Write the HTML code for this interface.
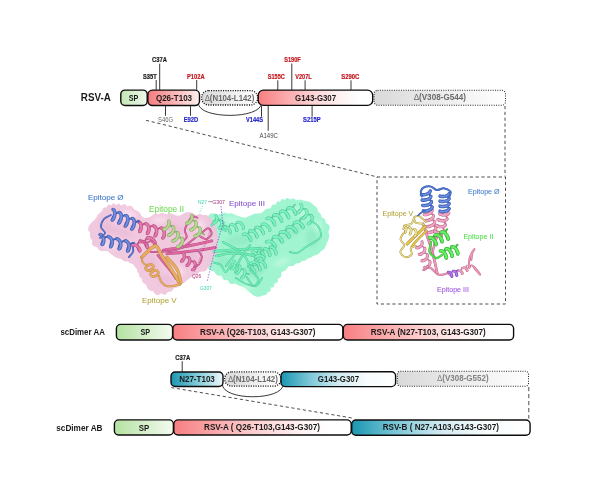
<!DOCTYPE html>
<html><head><meta charset="utf-8">
<style>
html,body{margin:0;padding:0;background:#fff;}
svg{display:block;will-change:transform;opacity:0.999;}
text{font-family:"Liberation Sans",sans-serif;stroke-width:0;}
.b{font-weight:bold;}
#struct text{stroke-width:0.05;paint-order:stroke;}
.s{font-size:6.5px;stroke-width:0.18px;font-weight:bold;text-anchor:middle;}
.m{font-size:8.7px;font-weight:bold;text-anchor:middle;}
.r{fill:#c4161c;stroke:#c4161c;}
.bl{fill:#2424c8;stroke:#2424c8;}
.k{fill:#1a1a1a;}
.s.k{stroke:#1a1a1a;}
.g{fill:#6a6a6a;}
.bx{stroke:#0c0c0c;stroke-width:1.4;}
.dt2{stroke:#2a2a2a;stroke-width:1.05;stroke-dasharray:1 1.35;}
.dt{stroke:#111;stroke-width:1.3;stroke-dasharray:1.1 1.3;}
.ds{stroke:#3a3a3a;stroke-width:0.9;stroke-dasharray:3.2 2.6;fill:none;}
.tk{stroke:#222;stroke-width:0.9;}
</style></head><body>
<svg width="600" height="502" viewBox="0 0 600 502">
<defs>
<linearGradient id="gG" x1="0" x2="1" y1="0" y2="0"><stop offset="0" stop-color="#b4e2a2"/><stop offset="1" stop-color="#f4fbf0"/></linearGradient>
<linearGradient id="gG1" x1="0" x2="1" y1="0" y2="0"><stop offset="0" stop-color="#c2e7b3"/><stop offset="1" stop-color="#eef8ea"/></linearGradient>
<linearGradient id="gR" x1="0" x2="1" y1="0" y2="0"><stop offset="0" stop-color="#f77f82"/><stop offset="0.25" stop-color="#faabad"/><stop offset="0.5" stop-color="#fdd6d7"/><stop offset="0.72" stop-color="#fff2f2"/><stop offset="0.88" stop-color="#ffffff"/></linearGradient>
<linearGradient id="gT" x1="0" x2="1" y1="0" y2="0"><stop offset="0" stop-color="#1a96b1"/><stop offset="0.25" stop-color="#7cc7d7"/><stop offset="0.5" stop-color="#d2ebf1"/><stop offset="0.75" stop-color="#f7fcfd"/><stop offset="1" stop-color="#ffffff"/></linearGradient>
<linearGradient id="gY" x1="0" x2="1" y1="0" y2="0"><stop offset="0" stop-color="#d9d9d9"/><stop offset="1" stop-color="#ffffff"/></linearGradient>
<filter id="bl1" x="-10%" y="-10%" width="120%" height="120%"><feGaussianBlur stdDeviation="0.7"/></filter>
<linearGradient id="gT2" x1="0" x2="1" y1="0" y2="0"><stop offset="0" stop-color="#1a96b1"/><stop offset="0.5" stop-color="#7fcbd9"/><stop offset="1" stop-color="#eef8fa"/></linearGradient>
<linearGradient id="gR2" x1="0" x2="1" y1="0" y2="0"><stop offset="0" stop-color="#f67c7f"/><stop offset="0.5" stop-color="#fab3b4"/><stop offset="1" stop-color="#fff0f0"/></linearGradient>
<filter id="bl2" x="-30%" y="-30%" width="160%" height="160%"><feGaussianBlur stdDeviation="2.2"/></filter>
</defs>
<rect width="600" height="502" fill="#fff"/>

<!-- ROW 1 -->
<g id="row1">
<text x="80.8" y="101.4" class="b k" font-size="10.4" textLength="30" lengthAdjust="spacingAndGlyphs">RSV-A</text>
<path class="ds" d="M146 120.3 L377.5 177"/>
<path d="M198.3 103 C198.3 119.5,261.5 119.5,261.5 103" fill="none" stroke="#222" stroke-width="0.9"/>
<rect x="120.8" y="90.1" width="26.4" height="15.4" rx="4.2" fill="url(#gG1)" class="bx"/>
<text x="133.5" y="100.7" class="m k" font-size="7.6" textLength="9.6" lengthAdjust="spacingAndGlyphs">SP</text>
<rect x="201.6" y="90.6" width="56" height="14.4" rx="7" fill="url(#gY)" class="dt"/>
<text x="229.7" y="100.6" class="m g" font-size="8.6" textLength="49.3" lengthAdjust="spacingAndGlyphs"><tspan style="font-weight:normal">∆</tspan>(N104-L142)</text>
<rect x="147.9" y="90.1" width="51.6" height="15.4" rx="4.5" fill="url(#gR2)" class="bx"/>
<text x="174" y="100.6" class="m k" textLength="36.2" lengthAdjust="spacingAndGlyphs">Q26-T103</text>
<rect x="374" y="90.3" width="131.5" height="14.9" rx="3.5" fill="url(#gY)" class="dt2"/>
<text x="440" y="100" class="m g" font-size="8.2" textLength="52" lengthAdjust="spacingAndGlyphs"><tspan style="font-weight:normal">∆</tspan>(V308-G544)</text>
<rect x="258.2" y="90.1" width="114.5" height="15.3" rx="5.2" fill="url(#gR)" class="bx"/>
<text x="315.6" y="100.7" class="m k" textLength="41" lengthAdjust="spacingAndGlyphs">G143-G307</text>
<!-- ticks -->
<path class="tk" d="M156.2 80V90 M159.7 63.7V90 M196.7 80V90 M277.8 80.3V90 M291.8 63.5V90 M305.1 80.3V90 M351 80.3V90 M165.5 106V115.8 M190.5 106V115.8 M261.5 106V116.7 M268.2 106V130.7 M312.1 106V116.7"/>
<text x="149.85" y="78.7" class="s k" textLength="13.7" lengthAdjust="spacingAndGlyphs">S35T</text>
<text x="159.50" y="62.3" class="s k" textLength="15.0" lengthAdjust="spacingAndGlyphs">C37A</text>
<text x="195.85" y="78.7" class="s r" textLength="17.7" lengthAdjust="spacingAndGlyphs">P102A</text>
<text x="276.30" y="78.7" class="s r" textLength="17.0" lengthAdjust="spacingAndGlyphs">S155C</text>
<text x="292.45" y="62.0" class="s r" textLength="16.5" lengthAdjust="spacingAndGlyphs">S190F</text>
<text x="303.50" y="78.7" class="s r" textLength="16.4" lengthAdjust="spacingAndGlyphs">V207L</text>
<text x="350.30" y="78.7" class="s r" textLength="18.0" lengthAdjust="spacingAndGlyphs">S290C</text>
<text x="165.50" y="121.6" class="s g" style="font-weight:normal" textLength="15.0" lengthAdjust="spacingAndGlyphs">S46G</text>
<text x="191.00" y="121.6" class="s bl" textLength="14.6" lengthAdjust="spacingAndGlyphs">E92D</text>
<text x="254.45" y="121.6" class="s bl" textLength="16.9" lengthAdjust="spacingAndGlyphs">V144S</text>
<text x="268.65" y="137.9" class="s" fill="#444" style="font-weight:normal" textLength="18.3" lengthAdjust="spacingAndGlyphs">A149C</text>
<text x="311.85" y="121.6" class="s bl" textLength="17.5" lengthAdjust="spacingAndGlyphs">S215P</text>
<path class="ds" d="M505 106V176.5"/>
<rect x="377" y="177" width="128.5" height="127" class="ds"/>
</g>

<!-- STRUCTURES -->
<g id="struct">
<g filter="url(#bl1)">
<path d="M208.2 216.5 L208.6 215.6 L209.2 214.8 L209.9 214.1 L210.7 213.7 L211.6 213.4 L212.5 213.3 L213.4 213.4 L214.3 213.5 L215.3 213.7 L216.3 214.1 L217.4 214.4 L218.6 214.8 L219.5 214.2 L220.6 213.7 L221.7 213.2 L222.9 212.8 L224.2 212.7 L225.4 212.8 L226.7 213.2 L227.9 213.8 L229.2 213.6 L230.8 213.3 L232.4 213.4 L233.9 213.9 L235.2 214.9 L236.6 215.6 L238.2 215.8 L239.5 216.2 L240.8 216.7 L242.0 217.2 L243.3 217.6 L244.6 217.8 L245.9 217.5 L247.1 217.1 L248.3 216.5 L249.4 216.0 L250.5 215.4 L251.6 214.9 L252.7 214.4 L253.7 214.0 L254.7 213.7 L255.7 213.5 L256.7 213.4 L257.7 213.4 L258.6 213.4 L259.6 213.5 L260.5 213.3 L261.3 212.9 L262.0 212.5 L262.7 212.0 L263.3 211.4 L263.9 210.9 L264.5 210.3 L265.2 209.8 L265.9 209.3 L266.7 208.9 L267.7 208.6 L268.8 208.4 L269.9 208.5 L270.7 208.2 L271.0 207.3 L271.3 206.4 L271.7 205.7 L272.1 205.1 L272.7 204.7 L273.5 204.5 L274.4 204.6 L275.3 204.8 L276.0 204.6 L276.2 203.4 L276.6 202.3 L277.1 201.6 L277.9 201.3 L278.8 201.4 L279.9 201.9 L280.5 201.1 L281.0 199.9 L281.8 199.0 L282.8 198.9 L283.9 199.4 L285.0 200.0 L285.9 198.7 L286.9 198.0 L288.1 198.1 L289.3 198.9 L290.5 199.4 L291.7 198.7 L292.8 198.5 L293.9 198.7 L295.0 199.3 L296.0 200.0 L297.0 200.2 L298.1 199.8 L299.1 199.7 L300.1 199.6 L301.0 199.8 L302.0 200.0 L302.9 200.3 L303.9 200.7 L304.8 201.1 L305.9 201.1 L307.1 201.2 L308.2 201.4 L309.4 201.7 L310.4 202.2 L311.4 202.9 L312.3 203.7 L313.1 204.6 L314.0 205.4 L315.0 206.0 L316.0 206.8 L316.7 207.7 L317.3 208.8 L317.7 210.1 L317.9 211.5 L318.9 212.3 L319.9 213.1 L320.6 214.0 L321.1 215.2 L321.2 216.5 L321.8 217.5 L323.2 218.1 L324.3 218.7 L325.1 219.6 L325.5 220.8 L325.5 222.1 L326.0 223.1 L327.3 223.7 L328.4 224.5 L329.1 225.4 L329.5 226.4 L329.6 227.5 L329.5 228.6 L329.2 229.8 L328.8 230.9 L328.4 231.9 L328.6 232.8 L328.9 233.7 L329.1 234.6 L329.2 235.5 L329.2 236.4 L329.0 237.3 L328.8 238.2 L328.5 239.1 L328.2 240.0 L327.9 240.9 L327.5 241.8 L327.1 242.6 L326.8 243.4 L326.5 244.2 L326.2 245.0 L325.9 245.7 L325.6 246.3 L325.3 247.0 L325.0 247.6 L324.6 248.2 L324.1 248.9 L323.4 249.5 L322.7 250.1 L321.7 250.7 L320.7 251.5 L319.7 252.8 L318.5 253.9 L317.0 254.8 L315.2 255.4 L313.2 255.7 L311.9 256.9 L310.5 257.8 L308.9 258.3 L307.6 258.6 L306.7 259.6 L305.8 260.3 L304.8 260.7 L303.8 260.8 L302.9 260.8 L301.9 261.1 L301.1 261.7 L300.3 262.4 L299.4 262.9 L298.4 263.2 L297.1 263.3 L295.9 263.6 L294.9 264.7 L293.9 265.5 L292.6 266.1 L291.1 266.2 L289.4 266.1 L288.1 266.7 L287.3 268.0 L286.4 269.2 L285.5 270.2 L284.2 270.9 L282.5 271.5 L281.3 272.6 L281.4 274.6 L281.1 276.4 L280.3 277.5 L278.8 278.2 L277.6 279.0 L277.9 280.7 L277.7 281.9 L277.1 282.6 L276.1 283.1 L274.9 283.3 L274.1 283.7 L274.3 284.7 L274.3 285.6 L274.1 286.3 L273.5 286.9 L272.7 287.2 L271.6 287.5 L270.5 287.8 L270.8 288.7 L270.8 289.6 L270.7 290.3 L270.4 290.9 L269.9 291.4 L269.2 291.7 L268.4 291.9 L267.7 292.0 L267.4 292.8 L267.0 293.6 L266.5 294.3 L265.8 294.8 L265.0 295.1 L264.1 295.3 L263.2 295.4 L262.4 295.4 L261.6 296.0 L260.7 296.4 L259.8 296.7 L258.8 296.8 L257.8 296.8 L256.8 296.7 L255.8 296.4 L254.9 296.0 L253.9 295.5 L253.0 294.9 L252.1 294.3 L251.3 293.6 L250.5 292.9 L249.7 292.2 L248.8 291.4 L248.0 290.6 L247.1 289.8 L246.2 289.0 L245.2 288.3 L244.2 287.6 L243.1 287.0 L242.0 286.6 L240.8 286.2 L239.6 285.8 L238.4 285.3 L237.3 284.7 L236.2 283.9 L234.9 283.6 L233.4 283.9 L232.0 284.0 L230.8 283.8 L229.7 283.2 L228.9 282.2 L228.3 281.0 L227.6 279.9 L226.4 280.1 L225.3 280.2 L224.2 279.9 L223.4 279.4 L222.7 278.5 L222.2 277.3 L221.9 275.8 L220.6 275.7 L219.2 275.8 L217.8 275.6 L216.8 275.0 L215.9 274.0 L215.2 272.9 L214.6 271.7 L213.5 271.3 L212.1 271.1 L211.0 270.7 L210.0 270.2 L209.2 269.6 L208.6 268.9 L208.0 268.1 L207.6 267.2 L207.3 266.2 L207.1 265.3 L207.0 264.3 L207.1 263.4 L206.8 262.7 L206.6 261.8 L206.5 260.9 L206.6 260.0 L206.8 259.0 L207.2 258.1 L207.7 257.2 L208.3 256.3 L209.0 255.5 L209.3 254.5 L209.3 253.5 L209.4 252.5 L209.7 251.6 L210.2 250.7 L210.8 249.9 L211.5 249.2 L211.6 248.2 L211.7 247.2 L211.9 246.3 L212.1 245.6 L212.4 244.9 L212.7 244.2 L212.3 243.5 L211.7 242.9 L211.3 242.3 L211.0 241.5 L211.0 240.6 L211.1 239.5 L210.3 238.9 L209.7 238.1 L209.4 237.2 L209.5 236.2 L209.9 235.1 L209.8 234.1 L208.9 233.4 L208.4 232.6 L208.2 231.6 L208.3 230.5 L208.8 229.5 L209.0 228.5 L208.1 227.7 L207.4 226.7 L207.0 225.5 L206.9 224.4 L207.2 223.2 L207.8 222.1 L208.5 221.0 L208.5 219.9 L208.1 218.7 L208.0 217.6Z" fill="#a0f5d0"/>
<path d="M88.5 231.0 L88.2 229.9 L88.2 228.9 L88.3 227.9 L88.5 226.9 L88.9 226.1 L89.4 225.2 L90.0 224.4 L90.6 223.6 L91.4 222.9 L92.2 222.1 L93.1 221.3 L94.0 220.5 L94.9 219.6 L95.6 218.4 L96.4 217.3 L97.1 216.0 L97.9 214.8 L98.8 213.7 L99.9 212.8 L101.1 212.1 L101.9 211.0 L102.4 209.5 L103.2 208.2 L104.5 207.5 L106.2 207.5 L107.1 206.2 L107.9 204.9 L109.3 204.6 L111.0 205.4 L112.0 204.6 L113.0 203.6 L114.3 203.6 L115.5 204.8 L116.7 204.9 L117.9 203.7 L119.1 203.7 L120.2 204.7 L121.3 205.7 L122.8 204.5 L124.2 204.1 L125.5 204.6 L126.6 206.0 L128.0 206.2 L129.8 205.8 L131.4 206.1 L132.6 207.1 L133.6 208.4 L134.5 209.8 L135.9 210.3 L137.1 210.8 L138.3 211.4 L139.2 212.3 L140.0 213.3 L140.7 214.4 L141.3 215.5 L142.0 216.5 L142.8 217.4 L143.9 217.8 L145.0 218.0 L146.0 218.1 L146.9 218.0 L147.7 217.8 L148.5 217.5 L149.3 217.2 L150.1 216.8 L151.0 216.5 L151.8 215.8 L152.6 215.0 L153.6 214.4 L154.7 214.0 L156.0 213.8 L157.3 214.0 L158.7 214.0 L160.0 213.5 L161.4 213.1 L162.9 213.1 L164.3 213.4 L165.7 214.0 L166.9 214.1 L168.0 213.7 L169.0 213.4 L170.1 213.4 L171.1 213.5 L172.1 213.8 L173.0 214.1 L173.8 214.5 L174.6 214.9 L175.4 215.2 L176.2 215.5 L177.0 215.6 L177.8 215.7 L178.7 215.6 L179.6 215.4 L180.6 215.3 L181.5 214.9 L182.3 214.3 L183.1 213.7 L184.0 213.2 L184.9 212.8 L185.9 212.5 L187.0 212.3 L188.1 212.2 L189.2 212.2 L190.3 212.3 L191.4 212.6 L192.5 213.0 L193.6 213.6 L194.7 214.3 L195.7 215.1 L196.8 215.0 L198.1 214.5 L199.3 214.1 L200.5 214.0 L201.6 214.4 L202.7 215.0 L203.8 215.3 L205.2 214.9 L206.4 214.9 L207.5 215.5 L208.3 216.5 L209.2 217.3 L210.4 217.7 L211.4 218.4 L212.1 219.5 L212.6 220.8 L213.3 221.8 L214.2 222.7 L214.8 223.8 L215.1 225.0 L215.2 226.3 L215.6 227.4 L216.3 228.6 L216.8 229.8 L217.1 231.2 L217.2 232.6 L217.0 234.1 L217.7 235.6 L218.3 237.1 L218.7 238.6 L218.7 240.0 L218.2 241.5 L217.3 243.0 L217.7 244.5 L218.1 246.2 L217.8 247.7 L216.8 249.1 L215.0 250.3 L215.7 252.1 L215.9 253.7 L215.0 255.0 L213.1 255.8 L213.6 257.8 L213.7 259.6 L212.5 260.8 L210.9 261.7 L211.4 264.0 L210.9 265.6 L209.5 266.5 L207.7 266.9 L207.5 268.4 L207.0 269.7 L206.1 270.6 L205.0 271.2 L203.8 271.5 L202.6 271.6 L201.4 271.7 L200.3 271.8 L199.4 272.1 L198.5 272.8 L197.7 273.4 L196.8 273.9 L196.0 274.4 L195.2 274.9 L194.4 275.3 L193.5 275.7 L192.7 276.2 L191.8 276.7 L191.0 277.2 L190.2 277.8 L189.3 278.5 L188.5 279.2 L187.6 280.0 L186.7 280.8 L185.7 281.6 L184.6 282.4 L183.4 283.0 L182.2 283.7 L181.2 284.6 L180.2 285.5 L179.2 286.2 L178.1 286.9 L176.9 287.5 L175.5 287.8 L174.1 287.9 L173.3 289.1 L172.5 290.3 L171.6 291.2 L170.4 291.7 L169.0 291.7 L167.8 291.9 L166.9 293.3 L165.7 294.4 L164.3 294.7 L162.8 294.2 L161.3 293.2 L159.9 294.2 L158.5 294.9 L157.1 295.0 L155.9 294.5 L154.8 293.7 L154.0 292.7 L153.4 291.6 L152.7 290.9 L151.7 290.9 L150.7 290.7 L149.8 290.4 L148.9 289.9 L148.2 289.2 L147.6 288.4 L147.1 287.5 L146.7 286.4 L146.5 285.2 L145.8 284.4 L144.5 283.8 L143.4 283.0 L142.6 282.0 L142.1 280.9 L142.0 279.5 L141.4 278.3 L140.1 277.5 L139.3 276.4 L139.0 274.9 L138.6 273.3 L137.6 272.2 L137.0 270.7 L136.8 268.9 L135.6 267.8 L134.6 266.5 L133.8 265.0 L132.3 264.1 L130.7 263.4 L129.3 262.4 L127.7 261.6 L125.6 261.5 L123.8 261.0 L122.2 260.0 L120.8 258.7 L118.9 258.4 L117.1 258.0 L115.6 257.3 L114.2 256.5 L113.0 255.6 L111.7 254.7 L110.6 253.7 L109.5 252.7 L108.4 251.7 L107.2 250.9 L105.7 251.0 L104.2 251.1 L102.7 251.1 L101.3 250.9 L100.0 250.5 L98.9 249.8 L98.0 248.8 L97.3 247.6 L96.4 246.7 L95.0 246.6 L93.7 246.2 L92.7 245.3 L92.1 244.1 L92.0 242.7 L92.2 241.1 L91.7 239.8 L90.8 238.7 L90.2 237.4 L89.9 236.0 L89.9 234.6 L90.0 233.2 L90.0 232.0Z" fill="#f0c4dc" fill-opacity="0.92"/>
</g>
<g filter="url(#bl2)">
<ellipse cx="120.0" cy="232.0" rx="14.0" ry="5.0" fill="#e6afcf" opacity="0.38" transform="rotate(15 120.0 232.0)"/>
<ellipse cx="150.0" cy="262.0" rx="8.0" ry="12.0" fill="#e6afcf" opacity="0.38" transform="rotate(-30 150.0 262.0)"/>
<ellipse cx="175.0" cy="228.0" rx="12.0" ry="5.0" fill="#e6afcf" opacity="0.38" transform="rotate(20 175.0 228.0)"/>
<ellipse cx="190.0" cy="258.0" rx="9.0" ry="6.0" fill="#e6afcf" opacity="0.38" transform="rotate(-20 190.0 258.0)"/>
<ellipse cx="105.0" cy="226.0" rx="6.0" ry="10.0" fill="#e6afcf" opacity="0.38" transform="rotate(0 105.0 226.0)"/>
<ellipse cx="165.0" cy="280.0" rx="9.0" ry="5.0" fill="#e6afcf" opacity="0.38" transform="rotate(10 165.0 280.0)"/>
<ellipse cx="128.0" cy="214.0" rx="8.0" ry="4.0" fill="#fbe6f2" opacity="0.70" transform="rotate(10 128.0 214.0)"/>
<ellipse cx="160.0" cy="220.0" rx="8.0" ry="3.0" fill="#fbe6f2" opacity="0.70" transform="rotate(0 160.0 220.0)"/>
<ellipse cx="110.0" cy="246.0" rx="8.0" ry="3.0" fill="#fbe6f2" opacity="0.70" transform="rotate(10 110.0 246.0)"/>
<ellipse cx="178.0" cy="272.0" rx="6.0" ry="5.0" fill="#fbe6f2" opacity="0.70" transform="rotate(0 178.0 272.0)"/>
<ellipse cx="200.0" cy="226.0" rx="5.0" ry="6.0" fill="#fbe6f2" opacity="0.70" transform="rotate(0 200.0 226.0)"/>
<ellipse cx="240.0" cy="240.0" rx="14.0" ry="6.0" fill="#84e2bc" opacity="0.45" transform="rotate(-10 240.0 240.0)"/>
<ellipse cx="290.0" cy="232.0" rx="16.0" ry="5.0" fill="#84e2bc" opacity="0.45" transform="rotate(-30 290.0 232.0)"/>
<ellipse cx="255.0" cy="270.0" rx="10.0" ry="7.0" fill="#84e2bc" opacity="0.45" transform="rotate(-20 255.0 270.0)"/>
<ellipse cx="312.0" cy="238.0" rx="6.0" ry="10.0" fill="#84e2bc" opacity="0.45" transform="rotate(0 312.0 238.0)"/>
<ellipse cx="225.0" cy="262.0" rx="8.0" ry="5.0" fill="#84e2bc" opacity="0.45" transform="rotate(20 225.0 262.0)"/>
<ellipse cx="270.0" cy="250.0" rx="10.0" ry="4.0" fill="#84e2bc" opacity="0.45" transform="rotate(-25 270.0 250.0)"/>
<ellipse cx="232.0" cy="220.0" rx="9.0" ry="3.0" fill="#c9fbe6" opacity="0.70" transform="rotate(0 232.0 220.0)"/>
<ellipse cx="300.0" cy="212.0" rx="9.0" ry="4.0" fill="#c9fbe6" opacity="0.70" transform="rotate(10 300.0 212.0)"/>
<ellipse cx="282.0" cy="262.0" rx="8.0" ry="3.0" fill="#c9fbe6" opacity="0.70" transform="rotate(-25 282.0 262.0)"/>
<ellipse cx="248.0" cy="286.0" rx="6.0" ry="4.0" fill="#c9fbe6" opacity="0.70" transform="rotate(0 248.0 286.0)"/>
<ellipse cx="318.0" cy="226.0" rx="4.0" ry="6.0" fill="#c9fbe6" opacity="0.70" transform="rotate(0 318.0 226.0)"/>
</g>
<g opacity="0.84">
<path d="M274.5 224.7 L273.9 224.5 L273.1 223.5 L272.4 221.9 L272.0 219.9 L272.1 217.9 L272.8 216.2 L274.0 215.1 M281.5 221.2 L280.9 221.0 L280.1 220.0 L279.4 218.4 L279.0 216.4 L279.1 214.4 L279.8 212.7 L281.0 211.6 M288.5 217.7 L287.9 217.5 L287.1 216.5 L286.4 214.9 L286.0 212.9 L286.1 210.9 L286.8 209.2 L288.0 208.1 M295.5 214.2 L294.9 214.0 L294.1 213.0 L293.4 211.4 L293.0 209.4 L293.1 207.4 L293.8 205.7 L295.0 204.6" fill="none" stroke="#52ca9a" stroke-width="1.8" stroke-linecap="round" stroke-linejoin="round"/>
<path d="M267.0 218.6 L268.6 218.2 L270.4 218.7 L272.1 219.9 L273.5 221.4 L274.4 222.9 L274.7 224.1 L274.5 224.7 M274.0 215.1 L275.6 214.7 L277.4 215.2 L279.1 216.4 L280.5 217.9 L281.4 219.4 L281.7 220.6 L281.5 221.2 M281.0 211.6 L282.6 211.2 L284.4 211.7 L286.1 212.9 L287.5 214.4 L288.4 215.9 L288.7 217.1 L288.5 217.7 M288.0 208.1 L289.6 207.7 L291.4 208.2 L293.1 209.4 L294.5 210.9 L295.4 212.4 L295.7 213.6 L295.5 214.2" fill="none" stroke="#46ac88" stroke-width="3.3" stroke-linecap="round" stroke-linejoin="round"/>
<path d="M267.0 218.6 L268.6 218.2 L270.4 218.7 L272.1 219.9 L273.5 221.4 L274.4 222.9 L274.7 224.1 L274.5 224.7 M274.0 215.1 L275.6 214.7 L277.4 215.2 L279.1 216.4 L280.5 217.9 L281.4 219.4 L281.7 220.6 L281.5 221.2 M281.0 211.6 L282.6 211.2 L284.4 211.7 L286.1 212.9 L287.5 214.4 L288.4 215.9 L288.7 217.1 L288.5 217.7 M288.0 208.1 L289.6 207.7 L291.4 208.2 L293.1 209.4 L294.5 210.9 L295.4 212.4 L295.7 213.6 L295.5 214.2" fill="none" stroke="#62f0b2" stroke-width="2.6" stroke-linecap="round" stroke-linejoin="round"/>
<path d="M267.0 218.6 L268.6 218.2 L270.4 218.7 L272.1 219.9 L273.5 221.4 L274.4 222.9 L274.7 224.1 L274.5 224.7 M274.0 215.1 L275.6 214.7 L277.4 215.2 L279.1 216.4 L280.5 217.9 L281.4 219.4 L281.7 220.6 L281.5 221.2 M281.0 211.6 L282.6 211.2 L284.4 211.7 L286.1 212.9 L287.5 214.4 L288.4 215.9 L288.7 217.1 L288.5 217.7 M288.0 208.1 L289.6 207.7 L291.4 208.2 L293.1 209.4 L294.5 210.9 L295.4 212.4 L295.7 213.6 L295.5 214.2" fill="none" stroke="#b0f7d8" stroke-width="0.9" stroke-linecap="round" stroke-linejoin="round" opacity="0.55"/>
<path d="M275.0 246.7 L274.3 246.7 L273.4 245.8 L272.5 244.3 L271.9 242.3 L271.8 240.2 L272.3 238.4 L273.5 237.1 M282.0 241.9 L281.3 241.9 L280.4 241.0 L279.5 239.5 L278.9 237.5 L278.8 235.4 L279.3 233.6 L280.5 232.3 M289.0 237.1 L288.3 237.1 L287.4 236.2 L286.5 234.7 L285.9 232.7 L285.8 230.6 L286.3 228.8 L287.5 227.5 M296.0 232.3 L295.3 232.3 L294.4 231.4 L293.5 229.9 L292.9 227.9 L292.8 225.8 L293.3 224.0 L294.5 222.7 M303.0 227.5 L302.3 227.5 L301.4 226.6 L300.5 225.1 L299.9 223.1 L299.8 221.0 L300.3 219.2 L301.5 217.9" fill="none" stroke="#52ca9a" stroke-width="1.8" stroke-linecap="round" stroke-linejoin="round"/>
<path d="M266.5 241.9 L268.2 241.3 L270.1 241.4 L272.0 242.3 L273.6 243.5 L274.7 244.9 L275.2 246.1 L275.0 246.7 M273.5 237.1 L275.2 236.5 L277.1 236.6 L279.0 237.5 L280.6 238.7 L281.7 240.1 L282.2 241.3 L282.0 241.9 M280.5 232.3 L282.2 231.7 L284.1 231.8 L286.0 232.7 L287.6 233.9 L288.7 235.3 L289.2 236.5 L289.0 237.1 M287.5 227.5 L289.2 226.9 L291.1 227.0 L293.0 227.9 L294.6 229.1 L295.7 230.5 L296.2 231.7 L296.0 232.3 M294.5 222.7 L296.2 222.1 L298.1 222.2 L300.0 223.1 L301.6 224.3 L302.7 225.7 L303.2 226.9 L303.0 227.5" fill="none" stroke="#46ac88" stroke-width="3.3" stroke-linecap="round" stroke-linejoin="round"/>
<path d="M266.5 241.9 L268.2 241.3 L270.1 241.4 L272.0 242.3 L273.6 243.5 L274.7 244.9 L275.2 246.1 L275.0 246.7 M273.5 237.1 L275.2 236.5 L277.1 236.6 L279.0 237.5 L280.6 238.7 L281.7 240.1 L282.2 241.3 L282.0 241.9 M280.5 232.3 L282.2 231.7 L284.1 231.8 L286.0 232.7 L287.6 233.9 L288.7 235.3 L289.2 236.5 L289.0 237.1 M287.5 227.5 L289.2 226.9 L291.1 227.0 L293.0 227.9 L294.6 229.1 L295.7 230.5 L296.2 231.7 L296.0 232.3 M294.5 222.7 L296.2 222.1 L298.1 222.2 L300.0 223.1 L301.6 224.3 L302.7 225.7 L303.2 226.9 L303.0 227.5" fill="none" stroke="#62f0b2" stroke-width="2.6" stroke-linecap="round" stroke-linejoin="round"/>
<path d="M266.5 241.9 L268.2 241.3 L270.1 241.4 L272.0 242.3 L273.6 243.5 L274.7 244.9 L275.2 246.1 L275.0 246.7 M273.5 237.1 L275.2 236.5 L277.1 236.6 L279.0 237.5 L280.6 238.7 L281.7 240.1 L282.2 241.3 L282.0 241.9 M280.5 232.3 L282.2 231.7 L284.1 231.8 L286.0 232.7 L287.6 233.9 L288.7 235.3 L289.2 236.5 L289.0 237.1 M287.5 227.5 L289.2 226.9 L291.1 227.0 L293.0 227.9 L294.6 229.1 L295.7 230.5 L296.2 231.7 L296.0 232.3 M294.5 222.7 L296.2 222.1 L298.1 222.2 L300.0 223.1 L301.6 224.3 L302.7 225.7 L303.2 226.9 L303.0 227.5" fill="none" stroke="#b0f7d8" stroke-width="0.9" stroke-linecap="round" stroke-linejoin="round" opacity="0.55"/>
<path d="M297.7 212.5 L297.7 211.9 L298.3 211.0 L299.5 210.0 L301.2 209.2 L303.1 208.8 L304.8 209.0 L306.1 209.9 M302.9 218.1 L302.9 217.5 L303.5 216.6 L304.7 215.6 L306.4 214.8 L308.3 214.4 L310.0 214.6 L311.3 215.5" fill="none" stroke="#52ca9a" stroke-width="1.7" stroke-linecap="round" stroke-linejoin="round"/>
<path d="M300.9 204.3 L301.7 205.7 L301.8 207.4 L301.3 209.2 L300.4 210.8 L299.2 212.0 L298.3 212.6 L297.7 212.5 M306.1 209.9 L306.9 211.3 L307.0 213.0 L306.5 214.8 L305.6 216.4 L304.4 217.6 L303.5 218.2 L302.9 218.1 M311.3 215.5 L312.1 216.9 L312.2 218.6 L311.7 220.4 L310.8 222.0 L309.6 223.2 L308.7 223.8 L308.1 223.7" fill="none" stroke="#46ac88" stroke-width="3.1" stroke-linecap="round" stroke-linejoin="round"/>
<path d="M300.9 204.3 L301.7 205.7 L301.8 207.4 L301.3 209.2 L300.4 210.8 L299.2 212.0 L298.3 212.6 L297.7 212.5 M306.1 209.9 L306.9 211.3 L307.0 213.0 L306.5 214.8 L305.6 216.4 L304.4 217.6 L303.5 218.2 L302.9 218.1 M311.3 215.5 L312.1 216.9 L312.2 218.6 L311.7 220.4 L310.8 222.0 L309.6 223.2 L308.7 223.8 L308.1 223.7" fill="none" stroke="#62f0b2" stroke-width="2.4" stroke-linecap="round" stroke-linejoin="round"/>
<path d="M300.9 204.3 L301.7 205.7 L301.8 207.4 L301.3 209.2 L300.4 210.8 L299.2 212.0 L298.3 212.6 L297.7 212.5 M306.1 209.9 L306.9 211.3 L307.0 213.0 L306.5 214.8 L305.6 216.4 L304.4 217.6 L303.5 218.2 L302.9 218.1 M311.3 215.5 L312.1 216.9 L312.2 218.6 L311.7 220.4 L310.8 222.0 L309.6 223.2 L308.7 223.8 L308.1 223.7" fill="none" stroke="#b0f7d8" stroke-width="0.8" stroke-linecap="round" stroke-linejoin="round" opacity="0.55"/>
<path d="M250.7 240.4 L250.1 240.2 L249.4 239.2 L248.6 237.6 L248.2 235.7 L248.2 233.7 L248.7 232.0 L249.8 230.9 M257.0 237.1 L256.5 236.9 L255.7 235.9 L255.0 234.3 L254.5 232.3 L254.5 230.3 L255.0 228.7 L256.1 227.6 M263.4 233.7 L262.8 233.5 L262.0 232.6 L261.3 231.0 L260.8 229.0 L260.8 227.0 L261.4 225.3 L262.4 224.3" fill="none" stroke="#52ca9a" stroke-width="1.7" stroke-linecap="round" stroke-linejoin="round"/>
<path d="M243.4 234.3 L244.9 234.0 L246.6 234.5 L248.3 235.6 L249.6 237.1 L250.5 238.6 L250.9 239.8 L250.7 240.4 M249.8 230.9 L251.3 230.7 L252.9 231.1 L254.6 232.3 L255.9 233.8 L256.9 235.3 L257.2 236.5 L257.0 237.1 M256.1 227.6 L257.6 227.3 L259.3 227.8 L260.9 228.9 L262.3 230.4 L263.2 232.0 L263.5 233.1 L263.4 233.7 M262.4 224.3 L263.9 224.0 L265.6 224.5 L267.2 225.6 L268.6 227.1 L269.5 228.6 L269.9 229.8 L269.7 230.4" fill="none" stroke="#46ac88" stroke-width="3.1" stroke-linecap="round" stroke-linejoin="round"/>
<path d="M243.4 234.3 L244.9 234.0 L246.6 234.5 L248.3 235.6 L249.6 237.1 L250.5 238.6 L250.9 239.8 L250.7 240.4 M249.8 230.9 L251.3 230.7 L252.9 231.1 L254.6 232.3 L255.9 233.8 L256.9 235.3 L257.2 236.5 L257.0 237.1 M256.1 227.6 L257.6 227.3 L259.3 227.8 L260.9 228.9 L262.3 230.4 L263.2 232.0 L263.5 233.1 L263.4 233.7 M262.4 224.3 L263.9 224.0 L265.6 224.5 L267.2 225.6 L268.6 227.1 L269.5 228.6 L269.9 229.8 L269.7 230.4" fill="none" stroke="#62f0b2" stroke-width="2.4" stroke-linecap="round" stroke-linejoin="round"/>
<path d="M243.4 234.3 L244.9 234.0 L246.6 234.5 L248.3 235.6 L249.6 237.1 L250.5 238.6 L250.9 239.8 L250.7 240.4 M249.8 230.9 L251.3 230.7 L252.9 231.1 L254.6 232.3 L255.9 233.8 L256.9 235.3 L257.2 236.5 L257.0 237.1 M256.1 227.6 L257.6 227.3 L259.3 227.8 L260.9 228.9 L262.3 230.4 L263.2 232.0 L263.5 233.1 L263.4 233.7 M262.4 224.3 L263.9 224.0 L265.6 224.5 L267.2 225.6 L268.6 227.1 L269.5 228.6 L269.9 229.8 L269.7 230.4" fill="none" stroke="#b0f7d8" stroke-width="0.8" stroke-linecap="round" stroke-linejoin="round" opacity="0.55"/>
<path d="M230.2 232.9 L229.7 232.7 L229.1 231.8 L228.7 230.3 L228.6 228.6 L229.0 226.8 L229.8 225.4 L231.0 224.6 M236.7 230.7 L236.2 230.5 L235.6 229.6 L235.2 228.1 L235.1 226.3 L235.5 224.6 L236.3 223.2 L237.5 222.4" fill="none" stroke="#52ca9a" stroke-width="1.5" stroke-linecap="round" stroke-linejoin="round"/>
<path d="M224.4 226.9 L225.9 226.8 L227.4 227.4 L228.7 228.5 L229.7 230.0 L230.3 231.4 L230.4 232.5 L230.2 232.9 M231.0 224.6 L232.4 224.5 L233.9 225.1 L235.2 226.3 L236.2 227.7 L236.8 229.1 L237.0 230.2 L236.7 230.7 M237.5 222.4 L238.9 222.3 L240.4 222.9 L241.8 224.0 L242.8 225.5 L243.4 226.9 L243.5 228.0 L243.2 228.5" fill="none" stroke="#46ac88" stroke-width="2.9" stroke-linecap="round" stroke-linejoin="round"/>
<path d="M224.4 226.9 L225.9 226.8 L227.4 227.4 L228.7 228.5 L229.7 230.0 L230.3 231.4 L230.4 232.5 L230.2 232.9 M231.0 224.6 L232.4 224.5 L233.9 225.1 L235.2 226.3 L236.2 227.7 L236.8 229.1 L237.0 230.2 L236.7 230.7 M237.5 222.4 L238.9 222.3 L240.4 222.9 L241.8 224.0 L242.8 225.5 L243.4 226.9 L243.5 228.0 L243.2 228.5" fill="none" stroke="#62f0b2" stroke-width="2.2" stroke-linecap="round" stroke-linejoin="round"/>
<path d="M224.4 226.9 L225.9 226.8 L227.4 227.4 L228.7 228.5 L229.7 230.0 L230.3 231.4 L230.4 232.5 L230.2 232.9 M231.0 224.6 L232.4 224.5 L233.9 225.1 L235.2 226.3 L236.2 227.7 L236.8 229.1 L237.0 230.2 L236.7 230.7 M237.5 222.4 L238.9 222.3 L240.4 222.9 L241.8 224.0 L242.8 225.5 L243.4 226.9 L243.5 228.0 L243.2 228.5" fill="none" stroke="#b0f7d8" stroke-width="0.8" stroke-linecap="round" stroke-linejoin="round" opacity="0.55"/>
<path d="M257.8 259.1 L257.3 258.8 L256.8 257.8 L256.4 256.3 L256.4 254.4 L256.7 252.7 L257.5 251.3 L258.6 250.6 M263.8 257.4 L263.3 257.1 L262.8 256.1 L262.4 254.5 L262.4 252.7 L262.7 250.9 L263.5 249.5 L264.6 248.8 M269.8 255.6 L269.3 255.4 L268.8 254.4 L268.4 252.8 L268.4 251.0 L268.7 249.2 L269.5 247.8 L270.6 247.1" fill="none" stroke="#52ca9a" stroke-width="1.7" stroke-linecap="round" stroke-linejoin="round"/>
<path d="M252.6 252.3 L253.9 252.3 L255.2 253.1 L256.5 254.4 L257.4 256.0 L257.9 257.5 L258.0 258.6 L257.8 259.1 M258.6 250.6 L259.9 250.6 L261.2 251.3 L262.5 252.7 L263.4 254.2 L263.9 255.8 L264.0 256.9 L263.8 257.4 M264.6 248.8 L265.9 248.9 L267.2 249.6 L268.5 250.9 L269.4 252.5 L269.9 254.0 L270.0 255.2 L269.8 255.6 M270.6 247.1 L271.9 247.1 L273.2 247.9 L274.5 249.2 L275.4 250.8 L275.9 252.3 L276.0 253.4 L275.8 253.9" fill="none" stroke="#46ac88" stroke-width="3.1" stroke-linecap="round" stroke-linejoin="round"/>
<path d="M252.6 252.3 L253.9 252.3 L255.2 253.1 L256.5 254.4 L257.4 256.0 L257.9 257.5 L258.0 258.6 L257.8 259.1 M258.6 250.6 L259.9 250.6 L261.2 251.3 L262.5 252.7 L263.4 254.2 L263.9 255.8 L264.0 256.9 L263.8 257.4 M264.6 248.8 L265.9 248.9 L267.2 249.6 L268.5 250.9 L269.4 252.5 L269.9 254.0 L270.0 255.2 L269.8 255.6 M270.6 247.1 L271.9 247.1 L273.2 247.9 L274.5 249.2 L275.4 250.8 L275.9 252.3 L276.0 253.4 L275.8 253.9" fill="none" stroke="#62f0b2" stroke-width="2.4" stroke-linecap="round" stroke-linejoin="round"/>
<path d="M252.6 252.3 L253.9 252.3 L255.2 253.1 L256.5 254.4 L257.4 256.0 L257.9 257.5 L258.0 258.6 L257.8 259.1 M258.6 250.6 L259.9 250.6 L261.2 251.3 L262.5 252.7 L263.4 254.2 L263.9 255.8 L264.0 256.9 L263.8 257.4 M264.6 248.8 L265.9 248.9 L267.2 249.6 L268.5 250.9 L269.4 252.5 L269.9 254.0 L270.0 255.2 L269.8 255.6 M270.6 247.1 L271.9 247.1 L273.2 247.9 L274.5 249.2 L275.4 250.8 L275.9 252.3 L276.0 253.4 L275.8 253.9" fill="none" stroke="#b0f7d8" stroke-width="0.8" stroke-linecap="round" stroke-linejoin="round" opacity="0.55"/>
<path d="M254.6 272.4 L254.1 272.2 L253.5 271.3 L252.8 269.8 L252.5 268.0 L252.5 266.2 L252.9 264.8 L253.9 263.9 M260.1 269.8 L259.6 269.6 L258.9 268.6 L258.3 267.2 L257.9 265.4 L257.9 263.6 L258.4 262.1 L259.3 261.2 M265.5 267.1 L265.0 266.9 L264.4 266.0 L263.7 264.5 L263.3 262.7 L263.4 261.0 L263.8 259.5 L264.7 258.6" fill="none" stroke="#52ca9a" stroke-width="1.7" stroke-linecap="round" stroke-linejoin="round"/>
<path d="M248.4 266.5 L249.7 266.4 L251.1 266.9 L252.5 268.0 L253.7 269.4 L254.5 270.8 L254.8 271.9 L254.6 272.4 M253.9 263.9 L255.1 263.7 L256.6 264.2 L258.0 265.3 L259.1 266.8 L259.9 268.2 L260.2 269.2 L260.1 269.8 M259.3 261.2 L260.6 261.1 L262.0 261.6 L263.4 262.7 L264.6 264.1 L265.4 265.5 L265.7 266.6 L265.5 267.1" fill="none" stroke="#46ac88" stroke-width="3.1" stroke-linecap="round" stroke-linejoin="round"/>
<path d="M248.4 266.5 L249.7 266.4 L251.1 266.9 L252.5 268.0 L253.7 269.4 L254.5 270.8 L254.8 271.9 L254.6 272.4 M253.9 263.9 L255.1 263.7 L256.6 264.2 L258.0 265.3 L259.1 266.8 L259.9 268.2 L260.2 269.2 L260.1 269.8 M259.3 261.2 L260.6 261.1 L262.0 261.6 L263.4 262.7 L264.6 264.1 L265.4 265.5 L265.7 266.6 L265.5 267.1" fill="none" stroke="#62f0b2" stroke-width="2.4" stroke-linecap="round" stroke-linejoin="round"/>
<path d="M248.4 266.5 L249.7 266.4 L251.1 266.9 L252.5 268.0 L253.7 269.4 L254.5 270.8 L254.8 271.9 L254.6 272.4 M253.9 263.9 L255.1 263.7 L256.6 264.2 L258.0 265.3 L259.1 266.8 L259.9 268.2 L260.2 269.2 L260.1 269.8 M259.3 261.2 L260.6 261.1 L262.0 261.6 L263.4 262.7 L264.6 264.1 L265.4 265.5 L265.7 266.6 L265.5 267.1" fill="none" stroke="#b0f7d8" stroke-width="0.8" stroke-linecap="round" stroke-linejoin="round" opacity="0.55"/>
<path d="M231.5 268.9 L231.5 268.4 L232.0 267.4 L233.1 266.3 L234.5 265.4 L236.2 264.8 L237.8 264.8 L239.1 265.4 M236.6 273.3 L236.5 272.8 L237.1 271.9 L238.1 270.8 L239.6 269.8 L241.3 269.2 L242.8 269.2 L244.1 269.8 M241.6 277.8 L241.6 277.2 L242.1 276.3 L243.2 275.2 L244.7 274.2 L246.3 273.7 L247.9 273.7 L249.2 274.3" fill="none" stroke="#52ca9a" stroke-width="1.5" stroke-linecap="round" stroke-linejoin="round"/>
<path d="M234.0 261.0 L234.8 262.1 L235.0 263.7 L234.6 265.4 L233.9 267.0 L232.9 268.2 L232.1 268.9 L231.5 268.9 M239.1 265.4 L239.8 266.6 L240.0 268.2 L239.7 269.9 L238.9 271.5 L238.0 272.7 L237.1 273.3 L236.6 273.3 M244.1 269.8 L244.9 271.0 L245.1 272.6 L244.7 274.3 L244.0 275.9 L243.0 277.1 L242.2 277.7 L241.6 277.8" fill="none" stroke="#46ac88" stroke-width="2.9" stroke-linecap="round" stroke-linejoin="round"/>
<path d="M234.0 261.0 L234.8 262.1 L235.0 263.7 L234.6 265.4 L233.9 267.0 L232.9 268.2 L232.1 268.9 L231.5 268.9 M239.1 265.4 L239.8 266.6 L240.0 268.2 L239.7 269.9 L238.9 271.5 L238.0 272.7 L237.1 273.3 L236.6 273.3 M244.1 269.8 L244.9 271.0 L245.1 272.6 L244.7 274.3 L244.0 275.9 L243.0 277.1 L242.2 277.7 L241.6 277.8" fill="none" stroke="#62f0b2" stroke-width="2.2" stroke-linecap="round" stroke-linejoin="round"/>
<path d="M234.0 261.0 L234.8 262.1 L235.0 263.7 L234.6 265.4 L233.9 267.0 L232.9 268.2 L232.1 268.9 L231.5 268.9 M239.1 265.4 L239.8 266.6 L240.0 268.2 L239.7 269.9 L238.9 271.5 L238.0 272.7 L237.1 273.3 L236.6 273.3 M244.1 269.8 L244.9 271.0 L245.1 272.6 L244.7 274.3 L244.0 275.9 L243.0 277.1 L242.2 277.7 L241.6 277.8" fill="none" stroke="#b0f7d8" stroke-width="0.8" stroke-linecap="round" stroke-linejoin="round" opacity="0.55"/>
<path d="M214.0 251.5 C216.7 251.2,224.9 250.5,230.3 250.1 C235.8 249.7,241.6 249.4,246.7 249.1 C251.7 248.8,258.3 248.4,260.7 248.2" fill="none" stroke="#46ac88" stroke-width="2.7" stroke-linecap="round" stroke-linejoin="round"/>
<path d="M214.0 251.5 C216.7 251.2,224.9 250.5,230.3 250.1 C235.8 249.7,241.6 249.4,246.7 249.1 C251.7 248.8,258.3 248.4,260.7 248.2" fill="none" stroke="#62f0b2" stroke-width="2.0" stroke-linecap="round" stroke-linejoin="round"/>
<path d="M216.3 256.1 C218.7 255.7,225.7 253.7,230.3 253.3 C235.0 252.9,240.2 253.3,244.3 253.8 C248.4 254.3,253.1 255.7,254.8 256.1" fill="none" stroke="#46ac88" stroke-width="2.5" stroke-linecap="round" stroke-linejoin="round"/>
<path d="M216.3 256.1 C218.7 255.7,225.7 253.7,230.3 253.3 C235.0 252.9,240.2 253.3,244.3 253.8 C248.4 254.3,253.1 255.7,254.8 256.1" fill="none" stroke="#62f0b2" stroke-width="1.8" stroke-linecap="round" stroke-linejoin="round"/>
<path d="M235.0 272.0 C235.8 270.1,237.9 263.8,239.7 260.3 C241.4 256.8,243.7 253.5,245.5 251.0 C247.2 248.5,249.4 246.1,250.2 245.2" fill="none" stroke="#46ac88" stroke-width="2.0" stroke-linecap="round" stroke-linejoin="round"/>
<path d="M235.0 272.0 C235.8 270.1,237.9 263.8,239.7 260.3 C241.4 256.8,243.7 253.5,245.5 251.0 C247.2 248.5,249.4 246.1,250.2 245.2" fill="none" stroke="#62f0b2" stroke-width="1.4" stroke-linecap="round" stroke-linejoin="round"/>
<path d="M311.0 221.0 C312.2 221.8,316.3 223.5,318.0 226.0 C319.7 228.5,321.3 233.5,321.0 236.0 C320.7 238.5,318.5 239.2,316.0 241.0 C313.5 242.8,309.2 245.0,306.0 247.0 C302.8 249.0,299.7 252.2,297.0 253.0 C294.3 253.8,291.2 252.2,290.0 252.0" fill="none" stroke="#46ac88" stroke-width="1.8" stroke-linecap="round" stroke-linejoin="round"/>
<path d="M311.0 221.0 C312.2 221.8,316.3 223.5,318.0 226.0 C319.7 228.5,321.3 233.5,321.0 236.0 C320.7 238.5,318.5 239.2,316.0 241.0 C313.5 242.8,309.2 245.0,306.0 247.0 C302.8 249.0,299.7 252.2,297.0 253.0 C294.3 253.8,291.2 252.2,290.0 252.0" fill="none" stroke="#62f0b2" stroke-width="1.2" stroke-linecap="round" stroke-linejoin="round"/>
<path d="M211.7 225.3 C212.4 224.4,214.4 220.0,216.3 219.5 C218.3 219.0,222.7 221.2,223.3 222.5 C223.9 223.9,219.4 226.3,219.8 227.7 C220.2 229.0,224.7 230.0,225.7 230.5" fill="none" stroke="#46ac88" stroke-width="2.3" stroke-linecap="round" stroke-linejoin="round"/>
<path d="M211.7 225.3 C212.4 224.4,214.4 220.0,216.3 219.5 C218.3 219.0,222.7 221.2,223.3 222.5 C223.9 223.9,219.4 226.3,219.8 227.7 C220.2 229.0,224.7 230.0,225.7 230.5" fill="none" stroke="#62f0b2" stroke-width="1.6" stroke-linecap="round" stroke-linejoin="round"/>
<path d="M214.0 262.7 C215.2 263.1,219.1 263.4,221.0 265.0 C222.9 266.6,223.9 272.2,225.7 272.0 C227.4 271.8,230.5 265.2,231.5 263.8" fill="none" stroke="#46ac88" stroke-width="1.9" stroke-linecap="round" stroke-linejoin="round"/>
<path d="M214.0 262.7 C215.2 263.1,219.1 263.4,221.0 265.0 C222.9 266.6,223.9 272.2,225.7 272.0 C227.4 271.8,230.5 265.2,231.5 263.8" fill="none" stroke="#62f0b2" stroke-width="1.3" stroke-linecap="round" stroke-linejoin="round"/>
<path d="M246.7 277.1 C247.8 278.6,251.7 285.7,253.7 286.0 C255.6 286.3,258.9 281.6,258.3 279.0 C257.7 276.4,251.5 271.6,250.2 270.1" fill="none" stroke="#46ac88" stroke-width="1.9" stroke-linecap="round" stroke-linejoin="round"/>
<path d="M246.7 277.1 C247.8 278.6,251.7 285.7,253.7 286.0 C255.6 286.3,258.9 281.6,258.3 279.0 C257.7 276.4,251.5 271.6,250.2 270.1" fill="none" stroke="#62f0b2" stroke-width="1.3" stroke-linecap="round" stroke-linejoin="round"/>
<path d="M213.9 222.9 L213.8 222.4 L214.2 221.6 L215.2 220.7 L216.6 220.1 L218.2 219.9 L219.7 220.2 L221.0 221.0 M219.1 228.1 L219.0 227.6 L219.5 226.8 L220.5 226.0 L221.8 225.3 L223.4 225.1 L225.0 225.4 L226.3 226.2" fill="none" stroke="#52ca9a" stroke-width="1.5" stroke-linecap="round" stroke-linejoin="round"/>
<path d="M215.8 215.7 L216.6 217.0 L216.9 218.6 L216.7 220.2 L216.0 221.5 L215.2 222.5 L214.4 223.0 L213.9 222.9 M221.0 221.0 L221.8 222.3 L222.1 223.8 L221.9 225.4 L221.3 226.8 L220.4 227.8 L219.6 228.2 L219.1 228.1" fill="none" stroke="#46ac88" stroke-width="2.9" stroke-linecap="round" stroke-linejoin="round"/>
<path d="M215.8 215.7 L216.6 217.0 L216.9 218.6 L216.7 220.2 L216.0 221.5 L215.2 222.5 L214.4 223.0 L213.9 222.9 M221.0 221.0 L221.8 222.3 L222.1 223.8 L221.9 225.4 L221.3 226.8 L220.4 227.8 L219.6 228.2 L219.1 228.1" fill="none" stroke="#62f0b2" stroke-width="2.2" stroke-linecap="round" stroke-linejoin="round"/>
<path d="M215.8 215.7 L216.6 217.0 L216.9 218.6 L216.7 220.2 L216.0 221.5 L215.2 222.5 L214.4 223.0 L213.9 222.9 M221.0 221.0 L221.8 222.3 L222.1 223.8 L221.9 225.4 L221.3 226.8 L220.4 227.8 L219.6 228.2 L219.1 228.1" fill="none" stroke="#b0f7d8" stroke-width="0.8" stroke-linecap="round" stroke-linejoin="round" opacity="0.55"/>
<path d="M223.0 242.0 C224.5 242.8,229.5 245.6,232.0 247.0 C234.5 248.4,235.7 248.7,238.0 250.5 C240.3 252.3,244.0 255.1,246.0 258.0 C248.0 260.9,249.3 266.3,250.0 268.0" fill="none" stroke="#46ac88" stroke-width="2.2" stroke-linecap="round" stroke-linejoin="round"/>
<path d="M223.0 242.0 C224.5 242.8,229.5 245.6,232.0 247.0 C234.5 248.4,235.7 248.7,238.0 250.5 C240.3 252.3,244.0 255.1,246.0 258.0 C248.0 260.9,249.3 266.3,250.0 268.0" fill="none" stroke="#62f0b2" stroke-width="1.6" stroke-linecap="round" stroke-linejoin="round"/>
<path d="M238.0 250.5 C237.0 251.8,234.0 255.4,232.0 258.0 C230.0 260.6,227.0 264.7,226.0 266.0" fill="none" stroke="#46ac88" stroke-width="2.0" stroke-linecap="round" stroke-linejoin="round"/>
<path d="M238.0 250.5 C237.0 251.8,234.0 255.4,232.0 258.0 C230.0 260.6,227.0 264.7,226.0 266.0" fill="none" stroke="#62f0b2" stroke-width="1.4" stroke-linecap="round" stroke-linejoin="round"/>
<path d="M236.0 278.0 C237.7 279.0,242.7 282.7,246.0 284.0 C249.3 285.3,253.3 287.0,256.0 286.0 C258.7 285.0,261.0 279.3,262.0 278.0" fill="none" stroke="#46ac88" stroke-width="1.8" stroke-linecap="round" stroke-linejoin="round"/>
<path d="M236.0 278.0 C237.7 279.0,242.7 282.7,246.0 284.0 C249.3 285.3,253.3 287.0,256.0 286.0 C258.7 285.0,261.0 279.3,262.0 278.0" fill="none" stroke="#62f0b2" stroke-width="1.2" stroke-linecap="round" stroke-linejoin="round"/>
<path d="M258.5 265.1 L257.9 265.2 L257.0 264.8 L255.9 263.8 L255.1 262.3 L254.7 260.5 L254.9 258.7 L255.8 257.2 M264.0 258.6 L263.4 258.7 L262.5 258.3 L261.4 257.3 L260.6 255.8 L260.2 254.0 L260.4 252.2 L261.3 250.7" fill="none" stroke="#52ca9a" stroke-width="1.5" stroke-linecap="round" stroke-linejoin="round"/>
<path d="M250.3 263.7 L251.6 262.6 L253.4 262.1 L255.2 262.2 L256.8 262.8 L258.0 263.6 L258.5 264.5 L258.5 265.1 M255.8 257.2 L257.1 256.1 L258.9 255.6 L260.7 255.7 L262.3 256.3 L263.5 257.1 L264.0 258.0 L264.0 258.6" fill="none" stroke="#46ac88" stroke-width="2.9" stroke-linecap="round" stroke-linejoin="round"/>
<path d="M250.3 263.7 L251.6 262.6 L253.4 262.1 L255.2 262.2 L256.8 262.8 L258.0 263.6 L258.5 264.5 L258.5 265.1 M255.8 257.2 L257.1 256.1 L258.9 255.6 L260.7 255.7 L262.3 256.3 L263.5 257.1 L264.0 258.0 L264.0 258.6" fill="none" stroke="#62f0b2" stroke-width="2.2" stroke-linecap="round" stroke-linejoin="round"/>
<path d="M250.3 263.7 L251.6 262.6 L253.4 262.1 L255.2 262.2 L256.8 262.8 L258.0 263.6 L258.5 264.5 L258.5 265.1 M255.8 257.2 L257.1 256.1 L258.9 255.6 L260.7 255.7 L262.3 256.3 L263.5 257.1 L264.0 258.0 L264.0 258.6" fill="none" stroke="#b0f7d8" stroke-width="0.8" stroke-linecap="round" stroke-linejoin="round" opacity="0.55"/>
<path d="M139.6 231.5 L139.3 230.9 L139.4 229.6 L140.0 227.9 L141.1 226.1 L142.6 224.6 L144.3 223.7 L145.9 223.7 M147.3 233.6 L147.0 233.1 L147.1 231.8 L147.7 230.0 L148.8 228.2 L150.3 226.7 L152.0 225.9 L153.7 225.9 M155.1 235.8 L154.7 235.2 L154.8 233.9 L155.4 232.2 L156.5 230.4 L158.0 228.9 L159.7 228.0 L161.4 228.0" fill="none" stroke="#b9427c" stroke-width="1.9" stroke-linecap="round" stroke-linejoin="round"/>
<path d="M138.2 221.6 L139.7 222.4 L140.7 224.0 L141.2 226.1 L141.2 228.2 L140.8 230.0 L140.2 231.2 L139.6 231.5 M145.9 223.7 L147.4 224.6 L148.4 226.2 L148.9 228.2 L148.9 230.4 L148.5 232.2 L147.9 233.3 L147.3 233.6 M153.7 225.9 L155.1 226.7 L156.1 228.3 L156.6 230.4 L156.6 232.5 L156.2 234.3 L155.6 235.5 L155.1 235.8 M161.4 228.0 L162.8 228.9 L163.8 230.5 L164.3 232.5 L164.3 234.7 L163.9 236.5 L163.3 237.6 L162.8 237.9" fill="none" stroke="#9c3468" stroke-width="3.4" stroke-linecap="round" stroke-linejoin="round"/>
<path d="M138.2 221.6 L139.7 222.4 L140.7 224.0 L141.2 226.1 L141.2 228.2 L140.8 230.0 L140.2 231.2 L139.6 231.5 M145.9 223.7 L147.4 224.6 L148.4 226.2 L148.9 228.2 L148.9 230.4 L148.5 232.2 L147.9 233.3 L147.3 233.6 M153.7 225.9 L155.1 226.7 L156.1 228.3 L156.6 230.4 L156.6 232.5 L156.2 234.3 L155.6 235.5 L155.1 235.8 M161.4 228.0 L162.8 228.9 L163.8 230.5 L164.3 232.5 L164.3 234.7 L163.9 236.5 L163.3 237.6 L162.8 237.9" fill="none" stroke="#dd5596" stroke-width="2.7" stroke-linecap="round" stroke-linejoin="round"/>
<path d="M138.2 221.6 L139.7 222.4 L140.7 224.0 L141.2 226.1 L141.2 228.2 L140.8 230.0 L140.2 231.2 L139.6 231.5 M145.9 223.7 L147.4 224.6 L148.4 226.2 L148.9 228.2 L148.9 230.4 L148.5 232.2 L147.9 233.3 L147.3 233.6 M153.7 225.9 L155.1 226.7 L156.1 228.3 L156.6 230.4 L156.6 232.5 L156.2 234.3 L155.6 235.5 L155.1 235.8 M161.4 228.0 L162.8 228.9 L163.8 230.5 L164.3 232.5 L164.3 234.7 L163.9 236.5 L163.3 237.6 L162.8 237.9" fill="none" stroke="#eeaaca" stroke-width="0.9" stroke-linecap="round" stroke-linejoin="round" opacity="0.55"/>
<path d="M139.6 251.0 L139.0 250.8 L138.2 249.9 L137.6 248.3 L137.3 246.4 L137.6 244.4 L138.4 242.7 L139.8 241.6 M147.2 247.4 L146.6 247.2 L145.8 246.3 L145.2 244.7 L144.9 242.8 L145.2 240.8 L146.0 239.1 L147.4 238.0" fill="none" stroke="#b9427c" stroke-width="1.9" stroke-linecap="round" stroke-linejoin="round"/>
<path d="M132.2 245.2 L133.9 244.9 L135.7 245.3 L137.5 246.3 L138.8 247.8 L139.6 249.2 L139.9 250.4 L139.6 251.0 M139.8 241.6 L141.5 241.3 L143.3 241.7 L145.1 242.7 L146.4 244.2 L147.2 245.6 L147.5 246.8 L147.2 247.4 M147.4 238.0 L149.1 237.7 L150.9 238.1 L152.7 239.1 L154.0 240.6 L154.8 242.0 L155.1 243.2 L154.8 243.8" fill="none" stroke="#9c3468" stroke-width="3.4" stroke-linecap="round" stroke-linejoin="round"/>
<path d="M132.2 245.2 L133.9 244.9 L135.7 245.3 L137.5 246.3 L138.8 247.8 L139.6 249.2 L139.9 250.4 L139.6 251.0 M139.8 241.6 L141.5 241.3 L143.3 241.7 L145.1 242.7 L146.4 244.2 L147.2 245.6 L147.5 246.8 L147.2 247.4 M147.4 238.0 L149.1 237.7 L150.9 238.1 L152.7 239.1 L154.0 240.6 L154.8 242.0 L155.1 243.2 L154.8 243.8" fill="none" stroke="#dd5596" stroke-width="2.7" stroke-linecap="round" stroke-linejoin="round"/>
<path d="M132.2 245.2 L133.9 244.9 L135.7 245.3 L137.5 246.3 L138.8 247.8 L139.6 249.2 L139.9 250.4 L139.6 251.0 M139.8 241.6 L141.5 241.3 L143.3 241.7 L145.1 242.7 L146.4 244.2 L147.2 245.6 L147.5 246.8 L147.2 247.4 M147.4 238.0 L149.1 237.7 L150.9 238.1 L152.7 239.1 L154.0 240.6 L154.8 242.0 L155.1 243.2 L154.8 243.8" fill="none" stroke="#eeaaca" stroke-width="0.9" stroke-linecap="round" stroke-linejoin="round" opacity="0.55"/>
<path d="M163.3 250.2 C166.0 249.8,173.8 248.7,179.5 247.7 C185.1 246.7,192.0 245.2,197.4 244.1 C202.8 243.0,209.4 241.4,211.7 240.9" fill="none" stroke="#9c3468" stroke-width="3.0" stroke-linecap="round" stroke-linejoin="round"/>
<path d="M163.3 250.2 C166.0 249.8,173.8 248.7,179.5 247.7 C185.1 246.7,192.0 245.2,197.4 244.1 C202.8 243.0,209.4 241.4,211.7 240.9" fill="none" stroke="#dd5596" stroke-width="2.2" stroke-linecap="round" stroke-linejoin="round"/>
<path d="M166.9 253.8 C169.9 253.5,179.2 252.7,184.8 252.0 C190.5 251.3,195.9 250.6,201.0 249.8 C206.1 249.1,212.9 248.0,215.3 247.7" fill="none" stroke="#9c3468" stroke-width="2.8" stroke-linecap="round" stroke-linejoin="round"/>
<path d="M166.9 253.8 C169.9 253.5,179.2 252.7,184.8 252.0 C190.5 251.3,195.9 250.6,201.0 249.8 C206.1 249.1,212.9 248.0,215.3 247.7" fill="none" stroke="#dd5596" stroke-width="2.0" stroke-linecap="round" stroke-linejoin="round"/>
<path d="M150.8 252.0 C153.5 251.9,161.8 251.9,166.9 251.3 C172.0 250.6,175.9 250.8,181.3 248.0 C186.6 245.3,196.2 236.8,199.2 234.6" fill="none" stroke="#9c3468" stroke-width="1.9" stroke-linecap="round" stroke-linejoin="round"/>
<path d="M150.8 252.0 C153.5 251.9,161.8 251.9,166.9 251.3 C172.0 250.6,175.9 250.8,181.3 248.0 C186.6 245.3,196.2 236.8,199.2 234.6" fill="none" stroke="#dd5596" stroke-width="1.3" stroke-linecap="round" stroke-linejoin="round"/>
<path d="M157.9 255.2 C159.1 256.7,162.7 261.2,165.1 264.2 C167.5 267.2,170.5 270.8,172.3 273.2 C174.1 275.6,175.3 277.6,175.9 278.5" fill="none" stroke="#9c3468" stroke-width="2.5" stroke-linecap="round" stroke-linejoin="round"/>
<path d="M157.9 255.2 C159.1 256.7,162.7 261.2,165.1 264.2 C167.5 267.2,170.5 270.8,172.3 273.2 C174.1 275.6,175.3 277.6,175.9 278.5" fill="none" stroke="#dd5596" stroke-width="1.8" stroke-linecap="round" stroke-linejoin="round"/>
<path d="M181.4 261.1 L181.3 260.6 L181.8 259.6 L182.7 258.6 L184.1 257.6 L185.7 257.0 L187.3 257.0 L188.6 257.6 M187.0 265.4 L186.9 264.9 L187.3 264.0 L188.3 262.9 L189.6 261.9 L191.2 261.3 L192.8 261.3 L194.2 261.9" fill="none" stroke="#b9427c" stroke-width="1.7" stroke-linecap="round" stroke-linejoin="round"/>
<path d="M183.1 253.3 L184.0 254.4 L184.4 256.0 L184.2 257.7 L183.6 259.2 L182.8 260.4 L182.0 261.1 L181.4 261.1 M188.6 257.6 L189.5 258.7 L189.9 260.3 L189.7 262.0 L189.1 263.5 L188.3 264.7 L187.5 265.4 L187.0 265.4 M194.2 261.9 L195.1 263.0 L195.4 264.6 L195.2 266.3 L194.6 267.9 L193.8 269.0 L193.0 269.7 L192.5 269.7" fill="none" stroke="#9c3468" stroke-width="3.1" stroke-linecap="round" stroke-linejoin="round"/>
<path d="M183.1 253.3 L184.0 254.4 L184.4 256.0 L184.2 257.7 L183.6 259.2 L182.8 260.4 L182.0 261.1 L181.4 261.1 M188.6 257.6 L189.5 258.7 L189.9 260.3 L189.7 262.0 L189.1 263.5 L188.3 264.7 L187.5 265.4 L187.0 265.4 M194.2 261.9 L195.1 263.0 L195.4 264.6 L195.2 266.3 L194.6 267.9 L193.8 269.0 L193.0 269.7 L192.5 269.7" fill="none" stroke="#dd5596" stroke-width="2.4" stroke-linecap="round" stroke-linejoin="round"/>
<path d="M183.1 253.3 L184.0 254.4 L184.4 256.0 L184.2 257.7 L183.6 259.2 L182.8 260.4 L182.0 261.1 L181.4 261.1 M188.6 257.6 L189.5 258.7 L189.9 260.3 L189.7 262.0 L189.1 263.5 L188.3 264.7 L187.5 265.4 L187.0 265.4 M194.2 261.9 L195.1 263.0 L195.4 264.6 L195.2 266.3 L194.6 267.9 L193.8 269.0 L193.0 269.7 L192.5 269.7" fill="none" stroke="#eeaaca" stroke-width="0.8" stroke-linecap="round" stroke-linejoin="round" opacity="0.55"/>
<path d="M194.7 266.9 C195.5 266.4,198.0 265.8,199.2 264.2 C200.4 262.5,201.9 259.1,201.9 257.0 C201.9 255.0,199.6 252.8,199.2 252.0" fill="none" stroke="#9c3468" stroke-width="1.8" stroke-linecap="round" stroke-linejoin="round"/>
<path d="M194.7 266.9 C195.5 266.4,198.0 265.8,199.2 264.2 C200.4 262.5,201.9 259.1,201.9 257.0 C201.9 255.0,199.6 252.8,199.2 252.0" fill="none" stroke="#dd5596" stroke-width="1.2" stroke-linecap="round" stroke-linejoin="round"/>
<path d="M180.4 243.6 C181.4 242.5,185.9 239.5,186.6 237.3 C187.4 235.0,184.5 232.7,184.8 230.1 C185.1 227.6,187.2 224.3,188.4 222.0 C189.6 219.8,190.5 217.4,192.0 216.7 C193.5 215.9,196.5 217.4,197.4 217.6" fill="none" stroke="#9c3468" stroke-width="1.9" stroke-linecap="round" stroke-linejoin="round"/>
<path d="M180.4 243.6 C181.4 242.5,185.9 239.5,186.6 237.3 C187.4 235.0,184.5 232.7,184.8 230.1 C185.1 227.6,187.2 224.3,188.4 222.0 C189.6 219.8,190.5 217.4,192.0 216.7 C193.5 215.9,196.5 217.4,197.4 217.6" fill="none" stroke="#dd5596" stroke-width="1.3" stroke-linecap="round" stroke-linejoin="round"/>
<path d="M200.1 236.4 C201.1 236.8,204.4 239.5,206.4 239.1 C208.3 238.6,211.4 235.5,211.7 233.7 C212.0 231.9,209.7 228.6,208.2 228.3 C206.7 228.0,203.7 231.3,202.8 231.9" fill="none" stroke="#9c3468" stroke-width="1.9" stroke-linecap="round" stroke-linejoin="round"/>
<path d="M200.1 236.4 C201.1 236.8,204.4 239.5,206.4 239.1 C208.3 238.6,211.4 235.5,211.7 233.7 C212.0 231.9,209.7 228.6,208.2 228.3 C206.7 228.0,203.7 231.3,202.8 231.9" fill="none" stroke="#dd5596" stroke-width="1.3" stroke-linecap="round" stroke-linejoin="round"/>
<path d="M140.0 240.0 C140.9 240.6,143.6 243.4,145.4 243.6 C147.2 243.7,149.0 240.6,150.8 240.9 C152.6 241.2,155.2 244.6,156.1 245.4" fill="none" stroke="#9c3468" stroke-width="2.0" stroke-linecap="round" stroke-linejoin="round"/>
<path d="M140.0 240.0 C140.9 240.6,143.6 243.4,145.4 243.6 C147.2 243.7,149.0 240.6,150.8 240.9 C152.6 241.2,155.2 244.6,156.1 245.4" fill="none" stroke="#dd5596" stroke-width="1.4" stroke-linecap="round" stroke-linejoin="round"/>
<path d="M163.9 229.4 L164.0 228.8 L164.8 227.9 L166.2 226.9 L168.1 226.1 L170.1 225.8 L171.8 226.0 L173.1 226.9 M168.4 235.2 L168.5 234.6 L169.3 233.7 L170.8 232.7 L172.6 231.9 L174.6 231.5 L176.4 231.8 L177.6 232.7 M172.9 241.0 L173.0 240.4 L173.8 239.5 L175.3 238.5 L177.1 237.7 L179.1 237.3 L180.9 237.6 L182.1 238.5" fill="none" stroke="#82b15a" stroke-width="1.8" stroke-linecap="round" stroke-linejoin="round"/>
<path d="M168.6 221.1 L169.1 222.6 L169.0 224.3 L168.2 226.2 L166.9 227.8 L165.6 228.9 L164.5 229.5 L163.9 229.4 M173.1 226.9 L173.7 228.4 L173.5 230.1 L172.7 232.0 L171.5 233.6 L170.1 234.7 L169.0 235.3 L168.4 235.2 M177.6 232.7 L178.2 234.1 L178.0 235.9 L177.2 237.7 L176.0 239.4 L174.6 240.5 L173.5 241.1 L172.9 241.0 M182.1 238.5 L182.7 239.9 L182.5 241.7 L181.7 243.5 L180.5 245.2 L179.1 246.3 L178.0 246.9 L177.4 246.8" fill="none" stroke="#6a9646" stroke-width="3.3" stroke-linecap="round" stroke-linejoin="round"/>
<path d="M168.6 221.1 L169.1 222.6 L169.0 224.3 L168.2 226.2 L166.9 227.8 L165.6 228.9 L164.5 229.5 L163.9 229.4 M173.1 226.9 L173.7 228.4 L173.5 230.1 L172.7 232.0 L171.5 233.6 L170.1 234.7 L169.0 235.3 L168.4 235.2 M177.6 232.7 L178.2 234.1 L178.0 235.9 L177.2 237.7 L176.0 239.4 L174.6 240.5 L173.5 241.1 L172.9 241.0 M182.1 238.5 L182.7 239.9 L182.5 241.7 L181.7 243.5 L180.5 245.2 L179.1 246.3 L178.0 246.9 L177.4 246.8" fill="none" stroke="#a0d274" stroke-width="2.6" stroke-linecap="round" stroke-linejoin="round"/>
<path d="M168.6 221.1 L169.1 222.6 L169.0 224.3 L168.2 226.2 L166.9 227.8 L165.6 228.9 L164.5 229.5 L163.9 229.4 M173.1 226.9 L173.7 228.4 L173.5 230.1 L172.7 232.0 L171.5 233.6 L170.1 234.7 L169.0 235.3 L168.4 235.2 M177.6 232.7 L178.2 234.1 L178.0 235.9 L177.2 237.7 L176.0 239.4 L174.6 240.5 L173.5 241.1 L172.9 241.0 M182.1 238.5 L182.7 239.9 L182.5 241.7 L181.7 243.5 L180.5 245.2 L179.1 246.3 L178.0 246.9 L177.4 246.8" fill="none" stroke="#cfe8b9" stroke-width="0.9" stroke-linecap="round" stroke-linejoin="round" opacity="0.55"/>
<path d="M186.7 223.4 L186.8 222.8 L187.6 221.9 L189.1 221.1 L190.9 220.5 L192.9 220.4 L194.6 220.9 L195.8 221.9 M190.8 229.7 L190.9 229.1 L191.8 228.3 L193.2 227.4 L195.1 226.9 L197.0 226.8 L198.8 227.2 L199.9 228.3 M195.0 236.1 L195.1 235.5 L196.0 234.6 L197.4 233.8 L199.3 233.2 L201.2 233.1 L202.9 233.6 L204.1 234.6" fill="none" stroke="#82b15a" stroke-width="1.8" stroke-linecap="round" stroke-linejoin="round"/>
<path d="M191.6 215.6 L192.1 217.1 L191.8 218.9 L191.0 220.6 L189.7 222.1 L188.4 223.1 L187.3 223.5 L186.7 223.4 M195.8 221.9 L196.3 223.4 L196.0 225.2 L195.2 226.9 L193.9 228.4 L192.5 229.4 L191.4 229.9 L190.8 229.7 M199.9 228.3 L200.4 229.8 L200.2 231.5 L199.3 233.3 L198.1 234.8 L196.7 235.8 L195.6 236.2 L195.0 236.1" fill="none" stroke="#6a9646" stroke-width="3.3" stroke-linecap="round" stroke-linejoin="round"/>
<path d="M191.6 215.6 L192.1 217.1 L191.8 218.9 L191.0 220.6 L189.7 222.1 L188.4 223.1 L187.3 223.5 L186.7 223.4 M195.8 221.9 L196.3 223.4 L196.0 225.2 L195.2 226.9 L193.9 228.4 L192.5 229.4 L191.4 229.9 L190.8 229.7 M199.9 228.3 L200.4 229.8 L200.2 231.5 L199.3 233.3 L198.1 234.8 L196.7 235.8 L195.6 236.2 L195.0 236.1" fill="none" stroke="#a0d274" stroke-width="2.6" stroke-linecap="round" stroke-linejoin="round"/>
<path d="M191.6 215.6 L192.1 217.1 L191.8 218.9 L191.0 220.6 L189.7 222.1 L188.4 223.1 L187.3 223.5 L186.7 223.4 M195.8 221.9 L196.3 223.4 L196.0 225.2 L195.2 226.9 L193.9 228.4 L192.5 229.4 L191.4 229.9 L190.8 229.7 M199.9 228.3 L200.4 229.8 L200.2 231.5 L199.3 233.3 L198.1 234.8 L196.7 235.8 L195.6 236.2 L195.0 236.1" fill="none" stroke="#cfe8b9" stroke-width="0.9" stroke-linecap="round" stroke-linejoin="round" opacity="0.55"/>
<path d="M141.8 257.4 C142.7 256.5,145.4 253.7,147.2 252.0 C149.0 250.3,150.9 248.0,152.6 247.2 C154.2 246.3,155.5 245.3,157.0 246.6 C158.5 248.0,159.4 251.8,161.5 255.2 C163.6 258.6,167.2 263.3,169.6 266.9 C172.0 270.5,174.2 273.9,175.9 276.7 C177.6 279.6,179.2 282.7,179.8 283.9" fill="none" stroke="#a87420" stroke-width="3.4" stroke-linecap="round" stroke-linejoin="round"/>
<path d="M141.8 257.4 C142.7 256.5,145.4 253.7,147.2 252.0 C149.0 250.3,150.9 248.0,152.6 247.2 C154.2 246.3,155.5 245.3,157.0 246.6 C158.5 248.0,159.4 251.8,161.5 255.2 C163.6 258.6,167.2 263.3,169.6 266.9 C172.0 270.5,174.2 273.9,175.9 276.7 C177.6 279.6,179.2 282.7,179.8 283.9" fill="none" stroke="#e8a84a" stroke-width="2.6" stroke-linecap="round" stroke-linejoin="round"/>
<path d="M166.9 257.4 C168.0 258.5,171.3 261.9,173.2 264.2 C175.0 266.5,176.7 268.3,178.0 271.4 C179.3 274.4,180.4 280.6,180.9 282.5" fill="none" stroke="#a87420" stroke-width="3.2" stroke-linecap="round" stroke-linejoin="round"/>
<path d="M166.9 257.4 C168.0 258.5,171.3 261.9,173.2 264.2 C175.0 266.5,176.7 268.3,178.0 271.4 C179.3 274.4,180.4 280.6,180.9 282.5" fill="none" stroke="#e8a84a" stroke-width="2.4" stroke-linecap="round" stroke-linejoin="round"/>
<ellipse cx="149.5" cy="267.5" rx="4" ry="2.8" transform="rotate(-25 149.5 267.5)" fill="none" stroke="#a87420" stroke-width="2.6"/>
<ellipse cx="149.5" cy="267.5" rx="4" ry="2.8" transform="rotate(-25 149.5 267.5)" fill="none" stroke="#e8a84a" stroke-width="1.9"/>
<ellipse cx="154.5" cy="273.5" rx="4" ry="2.8" transform="rotate(-25 154.5 273.5)" fill="none" stroke="#a87420" stroke-width="2.6"/>
<ellipse cx="154.5" cy="273.5" rx="4" ry="2.8" transform="rotate(-25 154.5 273.5)" fill="none" stroke="#e8a84a" stroke-width="1.9"/>
<path d="M158.8 275.9 C159.3 276.9,160.2 280.4,161.5 282.1 C162.9 283.8,164.8 285.5,166.9 286.1 C169.0 286.7,171.9 286.1,174.1 285.7 C176.2 285.4,178.9 284.2,179.8 283.9" fill="none" stroke="#a87420" stroke-width="2.0" stroke-linecap="round" stroke-linejoin="round"/>
<path d="M158.8 275.9 C159.3 276.9,160.2 280.4,161.5 282.1 C162.9 283.8,164.8 285.5,166.9 286.1 C169.0 286.7,171.9 286.1,174.1 285.7 C176.2 285.4,178.9 284.2,179.8 283.9" fill="none" stroke="#e8a84a" stroke-width="1.4" stroke-linecap="round" stroke-linejoin="round"/>
<path d="M141.8 257.4 C141.9 258.2,141.9 261.1,142.7 262.4 C143.4 263.7,145.7 264.6,146.3 265.1" fill="none" stroke="#a87420" stroke-width="1.9" stroke-linecap="round" stroke-linejoin="round"/>
<path d="M141.8 257.4 C141.9 258.2,141.9 261.1,142.7 262.4 C143.4 263.7,145.7 264.6,146.3 265.1" fill="none" stroke="#e8a84a" stroke-width="1.3" stroke-linecap="round" stroke-linejoin="round"/>
<path d="M112.2 220.0 L112.0 219.4 L112.3 218.1 L113.3 216.3 L114.7 214.5 L116.4 213.0 L118.1 212.3 L119.6 212.5 M118.7 223.0 L118.5 222.4 L118.8 221.1 L119.8 219.3 L121.2 217.5 L122.9 216.0 L124.6 215.3 L126.1 215.5 M125.2 226.0 L125.0 225.4 L125.3 224.1 L126.3 222.3 L127.7 220.5 L129.4 219.0 L131.1 218.3 L132.6 218.5 M131.7 229.0 L131.5 228.4 L131.8 227.1 L132.8 225.3 L134.2 223.5 L135.9 222.0 L137.6 221.3 L139.1 221.5" fill="none" stroke="#2d51ae" stroke-width="2.0" stroke-linecap="round" stroke-linejoin="round"/>
<path d="M113.1 209.5 L114.2 210.5 L114.8 212.3 L114.8 214.5 L114.3 216.7 L113.5 218.6 L112.7 219.8 L112.2 220.0 M119.6 212.5 L120.7 213.5 L121.3 215.3 L121.3 217.5 L120.8 219.7 L120.0 221.6 L119.2 222.8 L118.7 223.0 M126.1 215.5 L127.2 216.5 L127.8 218.3 L127.8 220.5 L127.3 222.7 L126.5 224.6 L125.7 225.8 L125.2 226.0 M132.6 218.5 L133.7 219.5 L134.3 221.3 L134.3 223.5 L133.8 225.7 L133.0 227.6 L132.2 228.8 L131.7 229.0" fill="none" stroke="#223e92" stroke-width="3.5" stroke-linecap="round" stroke-linejoin="round"/>
<path d="M113.1 209.5 L114.2 210.5 L114.8 212.3 L114.8 214.5 L114.3 216.7 L113.5 218.6 L112.7 219.8 L112.2 220.0 M119.6 212.5 L120.7 213.5 L121.3 215.3 L121.3 217.5 L120.8 219.7 L120.0 221.6 L119.2 222.8 L118.7 223.0 M126.1 215.5 L127.2 216.5 L127.8 218.3 L127.8 220.5 L127.3 222.7 L126.5 224.6 L125.7 225.8 L125.2 226.0 M132.6 218.5 L133.7 219.5 L134.3 221.3 L134.3 223.5 L133.8 225.7 L133.0 227.6 L132.2 228.8 L131.7 229.0" fill="none" stroke="#3b69d2" stroke-width="2.8" stroke-linecap="round" stroke-linejoin="round"/>
<path d="M113.1 209.5 L114.2 210.5 L114.8 212.3 L114.8 214.5 L114.3 216.7 L113.5 218.6 L112.7 219.8 L112.2 220.0 M119.6 212.5 L120.7 213.5 L121.3 215.3 L121.3 217.5 L120.8 219.7 L120.0 221.6 L119.2 222.8 L118.7 223.0 M126.1 215.5 L127.2 216.5 L127.8 218.3 L127.8 220.5 L127.3 222.7 L126.5 224.6 L125.7 225.8 L125.2 226.0 M132.6 218.5 L133.7 219.5 L134.3 221.3 L134.3 223.5 L133.8 225.7 L133.0 227.6 L132.2 228.8 L131.7 229.0" fill="none" stroke="#9db4e8" stroke-width="1.0" stroke-linecap="round" stroke-linejoin="round" opacity="0.55"/>
<path d="M102.1 244.5 L101.7 244.0 L101.8 242.7 L102.3 240.9 L103.4 239.1 L105.0 237.5 L106.8 236.7 L108.6 236.7 M110.6 246.7 L110.2 246.1 L110.3 244.8 L110.8 243.0 L111.9 241.2 L113.5 239.7 L115.3 238.8 L117.1 238.8 M119.1 248.8 L118.7 248.2 L118.8 246.9 L119.3 245.1 L120.4 243.3 L122.0 241.8 L123.8 240.9 L125.6 240.9 M127.6 250.9 L127.2 250.3 L127.3 249.0 L127.8 247.3 L128.9 245.4 L130.5 243.9 L132.3 243.1 L134.1 243.0" fill="none" stroke="#2d51ae" stroke-width="2.0" stroke-linecap="round" stroke-linejoin="round"/>
<path d="M100.1 234.5 L101.7 235.4 L102.9 237.0 L103.6 239.1 L103.7 241.2 L103.3 243.0 L102.7 244.2 L102.1 244.5 M108.6 236.7 L110.2 237.5 L111.4 239.1 L112.1 241.2 L112.2 243.3 L111.8 245.2 L111.2 246.3 L110.6 246.7 M117.1 238.8 L118.7 239.7 L119.9 241.3 L120.6 243.3 L120.7 245.5 L120.3 247.3 L119.7 248.5 L119.1 248.8 M125.6 240.9 L127.2 241.8 L128.4 243.4 L129.1 245.5 L129.2 247.6 L128.8 249.4 L128.2 250.6 L127.6 250.9" fill="none" stroke="#223e92" stroke-width="3.5" stroke-linecap="round" stroke-linejoin="round"/>
<path d="M100.1 234.5 L101.7 235.4 L102.9 237.0 L103.6 239.1 L103.7 241.2 L103.3 243.0 L102.7 244.2 L102.1 244.5 M108.6 236.7 L110.2 237.5 L111.4 239.1 L112.1 241.2 L112.2 243.3 L111.8 245.2 L111.2 246.3 L110.6 246.7 M117.1 238.8 L118.7 239.7 L119.9 241.3 L120.6 243.3 L120.7 245.5 L120.3 247.3 L119.7 248.5 L119.1 248.8 M125.6 240.9 L127.2 241.8 L128.4 243.4 L129.1 245.5 L129.2 247.6 L128.8 249.4 L128.2 250.6 L127.6 250.9" fill="none" stroke="#3b69d2" stroke-width="2.8" stroke-linecap="round" stroke-linejoin="round"/>
<path d="M100.1 234.5 L101.7 235.4 L102.9 237.0 L103.6 239.1 L103.7 241.2 L103.3 243.0 L102.7 244.2 L102.1 244.5 M108.6 236.7 L110.2 237.5 L111.4 239.1 L112.1 241.2 L112.2 243.3 L111.8 245.2 L111.2 246.3 L110.6 246.7 M117.1 238.8 L118.7 239.7 L119.9 241.3 L120.6 243.3 L120.7 245.5 L120.3 247.3 L119.7 248.5 L119.1 248.8 M125.6 240.9 L127.2 241.8 L128.4 243.4 L129.1 245.5 L129.2 247.6 L128.8 249.4 L128.2 250.6 L127.6 250.9" fill="none" stroke="#9db4e8" stroke-width="1.0" stroke-linecap="round" stroke-linejoin="round" opacity="0.55"/>
<path d="M111.0 215.0 C109.8 215.7,105.7 217.0,104.0 219.0 C102.3 221.0,100.8 224.7,101.0 227.0 C101.2 229.3,105.2 231.2,105.0 233.0 C104.8 234.8,100.8 237.2,100.0 238.0" fill="none" stroke="#223e92" stroke-width="1.6" stroke-linecap="round" stroke-linejoin="round"/>
<path d="M111.0 215.0 C109.8 215.7,105.7 217.0,104.0 219.0 C102.3 221.0,100.8 224.7,101.0 227.0 C101.2 229.3,105.2 231.2,105.0 233.0 C104.8 234.8,100.8 237.2,100.0 238.0" fill="none" stroke="#3b69d2" stroke-width="1.1" stroke-linecap="round" stroke-linejoin="round"/>
<path d="M133.0 247.5 C133.0 248.2,133.7 250.4,133.0 252.0 C132.3 253.6,129.7 256.2,129.0 257.0" fill="none" stroke="#223e92" stroke-width="1.8" stroke-linecap="round" stroke-linejoin="round"/>
<path d="M133.0 247.5 C133.0 248.2,133.7 250.4,133.0 252.0 C132.3 253.6,129.7 256.2,129.0 257.0" fill="none" stroke="#3b69d2" stroke-width="1.3" stroke-linecap="round" stroke-linejoin="round"/>
</g>
<path d="M202.5 206 L199.5 213 M205 245 L197 253" fill="none" stroke="#4fd8c0" stroke-width="0.7" stroke-dasharray="1.2 1.2"/>
<path d="M221 206 L222.8 225 L215 250 L207 282" fill="none" stroke="#7a4fd8" stroke-width="0.8" stroke-dasharray="1.4 1.4"/>
<path d="M211 228 L203 250 L194.5 272" fill="none" stroke="#c83c8c" stroke-width="0.7" stroke-dasharray="1.2 1.2"/>
<text x="88" y="200.2" font-size="8" fill="#3473c4" stroke="#3473c4">Epitope Ø</text>
<text x="149" y="211.6" font-size="8.3" fill="#70da52" stroke="#70da52">Epitope II</text>
<text x="229" y="206.4" font-size="8" fill="#8350cc" stroke="#8350cc">Epitope III</text>
<text x="142" y="303" font-size="8" fill="#b3a338" stroke="#b3a338">Epitope V</text>
<text x="198" y="203.6" font-size="4.8" fill="#4fd6b8" stroke="#4fd6b8">N27</text>
<path d="M208.3 201.6H212" stroke="#555" stroke-width="0.6"/><text x="212.3" y="203.5" font-size="5.2" fill="#b04888" stroke="#b04888">G307</text>
<text x="192" y="278.4" font-size="4.8" fill="#b8407c" stroke="#b8407c">Q26</text>
<text x="200" y="289.6" font-size="4.8" fill="#4fd6b8" stroke="#4fd6b8">G307</text>
<g opacity="0.9">
<path d="M423.5 269.9 C424.6 269.5,427.5 266.9,430.1 267.7 C432.6 268.5,435.9 273.8,438.9 274.7 C441.8 275.7,445.8 273.2,447.6 273.2 C449.5 273.2,449.5 274.5,449.8 274.7" fill="none" stroke="#a84c74" stroke-width="2.1" stroke-linecap="round" stroke-linejoin="round"/>
<path d="M423.5 269.9 C424.6 269.5,427.5 266.9,430.1 267.7 C432.6 268.5,435.9 273.8,438.9 274.7 C441.8 275.7,445.8 273.2,447.6 273.2 C449.5 273.2,449.5 274.5,449.8 274.7" fill="none" stroke="#ea8db2" stroke-width="1.5" stroke-linecap="round" stroke-linejoin="round"/>
<path d="M462.3 273.8 L461.9 273.7 L461.4 273.3 L461.0 272.4 L460.8 271.3 L460.9 270.1 L461.4 269.0 L462.3 268.2 M467.2 270.8 L466.8 270.8 L466.3 270.3 L465.9 269.5 L465.7 268.3 L465.8 267.1 L466.4 266.0 L467.2 265.2" fill="none" stroke="#c5698f" stroke-width="1.2" stroke-linecap="round" stroke-linejoin="round"/>
<path d="M457.4 271.1 L458.5 270.8 L459.7 270.8 L460.8 271.2 L461.7 271.9 L462.3 272.7 L462.5 273.4 L462.3 273.8 M462.3 268.2 L463.4 267.8 L464.6 267.8 L465.8 268.3 L466.7 269.0 L467.2 269.8 L467.4 270.4 L467.2 270.8" fill="none" stroke="#a84c74" stroke-width="2.4" stroke-linecap="round" stroke-linejoin="round"/>
<path d="M457.4 271.1 L458.5 270.8 L459.7 270.8 L460.8 271.2 L461.7 271.9 L462.3 272.7 L462.5 273.4 L462.3 273.8 M462.3 268.2 L463.4 267.8 L464.6 267.8 L465.8 268.3 L466.7 269.0 L467.2 269.8 L467.4 270.4 L467.2 270.8" fill="none" stroke="#ea8db2" stroke-width="1.7" stroke-linecap="round" stroke-linejoin="round"/>
<path d="M457.4 271.1 L458.5 270.8 L459.7 270.8 L460.8 271.2 L461.7 271.9 L462.3 272.7 L462.5 273.4 L462.3 273.8 M462.3 268.2 L463.4 267.8 L464.6 267.8 L465.8 268.3 L466.7 269.0 L467.2 269.8 L467.4 270.4 L467.2 270.8" fill="none" stroke="#f4c6d8" stroke-width="0.6" stroke-linecap="round" stroke-linejoin="round" opacity="0.55"/>
<path d="M468.5 267.3 C469.1 267.0,470.8 264.9,472.2 265.5 C473.5 266.1,475.3 269.5,476.6 271.0 C477.9 272.5,480.0 274.8,480.1 274.7 C480.2 274.6,478.3 271.7,477.2 270.4 C476.2 269.0,474.5 267.2,473.9 266.6" fill="none" stroke="#a84c74" stroke-width="1.9" stroke-linecap="round" stroke-linejoin="round"/>
<path d="M468.5 267.3 C469.1 267.0,470.8 264.9,472.2 265.5 C473.5 266.1,475.3 269.5,476.6 271.0 C477.9 272.5,480.0 274.8,480.1 274.7 C480.2 274.6,478.3 271.7,477.2 270.4 C476.2 269.0,474.5 267.2,473.9 266.6" fill="none" stroke="#ea8db2" stroke-width="1.3" stroke-linecap="round" stroke-linejoin="round"/>
<path d="M469.6 267.7 C469.5 266.6,468.9 263.3,469.1 261.1 C469.3 258.9,470.0 256.6,470.9 254.6 C471.8 252.6,474.2 249.3,474.4 249.1 C474.6 248.9,472.7 251.6,472.2 253.5 C471.7 255.3,471.5 258.9,471.3 260.0" fill="none" stroke="#a84c74" stroke-width="1.9" stroke-linecap="round" stroke-linejoin="round"/>
<path d="M469.6 267.7 C469.5 266.6,468.9 263.3,469.1 261.1 C469.3 258.9,470.0 256.6,470.9 254.6 C471.8 252.6,474.2 249.3,474.4 249.1 C474.6 248.9,472.7 251.6,472.2 253.5 C471.7 255.3,471.5 258.9,471.3 260.0" fill="none" stroke="#ea8db2" stroke-width="1.3" stroke-linecap="round" stroke-linejoin="round"/>
<path d="M451.8 276.7 L451.4 276.5 L451.1 275.9 L450.9 274.8 L451.0 273.6 L451.4 272.5 L452.2 271.6 L453.1 271.1 M456.7 275.6 L456.3 275.4 L456.0 274.8 L455.9 273.7 L456.0 272.5 L456.4 271.4 L457.1 270.5 L458.0 270.0" fill="none" stroke="#7f3ec1" stroke-width="1.4" stroke-linecap="round" stroke-linejoin="round"/>
<path d="M448.2 272.2 L449.2 272.2 L450.2 272.7 L451.1 273.6 L451.7 274.7 L452.0 275.7 L452.0 276.4 L451.8 276.7 M453.1 271.1 L454.1 271.1 L455.2 271.6 L456.0 272.5 L456.6 273.6 L456.9 274.6 L456.9 275.3 L456.7 275.6" fill="none" stroke="#6a30a8" stroke-width="2.7" stroke-linecap="round" stroke-linejoin="round"/>
<path d="M448.2 272.2 L449.2 272.2 L450.2 272.7 L451.1 273.6 L451.7 274.7 L452.0 275.7 L452.0 276.4 L451.8 276.7 M453.1 271.1 L454.1 271.1 L455.2 271.6 L456.0 272.5 L456.6 273.6 L456.9 274.6 L456.9 275.3 L456.7 275.6" fill="none" stroke="#9a50e0" stroke-width="2.0" stroke-linecap="round" stroke-linejoin="round"/>
<path d="M448.2 272.2 L449.2 272.2 L450.2 272.7 L451.1 273.6 L451.7 274.7 L452.0 275.7 L452.0 276.4 L451.8 276.7 M453.1 271.1 L454.1 271.1 L455.2 271.6 L456.0 272.5 L456.6 273.6 L456.9 274.6 L456.9 275.3 L456.7 275.6" fill="none" stroke="#cca7ef" stroke-width="0.7" stroke-linecap="round" stroke-linejoin="round" opacity="0.55"/>
<path d="M424.2 214.6 L424.6 214.2 L425.7 213.7 L427.5 213.4 L429.5 213.4 L431.4 213.8 L432.8 214.6 L433.5 215.7 M425.5 220.5 L425.8 220.1 L427.0 219.6 L428.7 219.4 L430.7 219.4 L432.6 219.8 L434.1 220.6 L434.7 221.7 M426.8 226.5 L427.1 226.0 L428.3 225.6 L430.0 225.3 L432.0 225.3 L433.9 225.7 L435.3 226.5 L436.0 227.6 M428.0 232.4 L428.4 232.0 L429.5 231.5 L431.3 231.2 L433.3 231.3 L435.2 231.7 L436.6 232.5 L437.3 233.6" fill="none" stroke="#c5698f" stroke-width="1.7" stroke-linecap="round" stroke-linejoin="round"/>
<path d="M432.2 209.8 L432.0 211.1 L431.1 212.4 L429.5 213.5 L427.7 214.3 L426.0 214.8 L424.7 214.8 L424.2 214.6 M433.5 215.7 L433.3 217.0 L432.3 218.3 L430.8 219.5 L428.9 220.3 L427.2 220.7 L426.0 220.8 L425.5 220.5 M434.7 221.7 L434.6 223.0 L433.6 224.3 L432.0 225.4 L430.2 226.2 L428.5 226.7 L427.3 226.7 L426.8 226.5 M436.0 227.6 L435.8 228.9 L434.9 230.2 L433.3 231.3 L431.5 232.2 L429.8 232.6 L428.5 232.7 L428.0 232.4 M437.3 233.6 L437.1 234.9 L436.1 236.2 L434.6 237.3 L432.7 238.1 L431.0 238.6 L429.8 238.6 L429.3 238.4" fill="none" stroke="#a84c74" stroke-width="3.1" stroke-linecap="round" stroke-linejoin="round"/>
<path d="M432.2 209.8 L432.0 211.1 L431.1 212.4 L429.5 213.5 L427.7 214.3 L426.0 214.8 L424.7 214.8 L424.2 214.6 M433.5 215.7 L433.3 217.0 L432.3 218.3 L430.8 219.5 L428.9 220.3 L427.2 220.7 L426.0 220.8 L425.5 220.5 M434.7 221.7 L434.6 223.0 L433.6 224.3 L432.0 225.4 L430.2 226.2 L428.5 226.7 L427.3 226.7 L426.8 226.5 M436.0 227.6 L435.8 228.9 L434.9 230.2 L433.3 231.3 L431.5 232.2 L429.8 232.6 L428.5 232.7 L428.0 232.4 M437.3 233.6 L437.1 234.9 L436.1 236.2 L434.6 237.3 L432.7 238.1 L431.0 238.6 L429.8 238.6 L429.3 238.4" fill="none" stroke="#ea8db2" stroke-width="2.4" stroke-linecap="round" stroke-linejoin="round"/>
<path d="M432.2 209.8 L432.0 211.1 L431.1 212.4 L429.5 213.5 L427.7 214.3 L426.0 214.8 L424.7 214.8 L424.2 214.6 M433.5 215.7 L433.3 217.0 L432.3 218.3 L430.8 219.5 L428.9 220.3 L427.2 220.7 L426.0 220.8 L425.5 220.5 M434.7 221.7 L434.6 223.0 L433.6 224.3 L432.0 225.4 L430.2 226.2 L428.5 226.7 L427.3 226.7 L426.8 226.5 M436.0 227.6 L435.8 228.9 L434.9 230.2 L433.3 231.3 L431.5 232.2 L429.8 232.6 L428.5 232.7 L428.0 232.4 M437.3 233.6 L437.1 234.9 L436.1 236.2 L434.6 237.3 L432.7 238.1 L431.0 238.6 L429.8 238.6 L429.3 238.4" fill="none" stroke="#f4c6d8" stroke-width="0.8" stroke-linecap="round" stroke-linejoin="round" opacity="0.55"/>
<path d="M439.5 213.5 L440.0 213.3 L441.2 213.5 L442.9 214.0 L444.7 215.0 L446.2 216.2 L447.1 217.6 L447.2 218.9 M437.9 219.4 L438.4 219.2 L439.6 219.3 L441.3 219.9 L443.0 220.8 L444.5 222.1 L445.4 223.4 L445.5 224.7 M436.2 225.3 L436.7 225.0 L438.0 225.2 L439.6 225.7 L441.4 226.7 L442.9 227.9 L443.8 229.3 L443.9 230.6 M434.6 231.1 L435.1 230.9 L436.3 231.1 L438.0 231.6 L439.8 232.6 L441.2 233.8 L442.1 235.2 L442.2 236.5" fill="none" stroke="#c5698f" stroke-width="1.7" stroke-linecap="round" stroke-linejoin="round"/>
<path d="M448.8 213.0 L448.0 214.1 L446.6 214.8 L444.7 215.0 L442.7 214.9 L440.9 214.5 L439.8 214.0 L439.5 213.5 M447.2 218.9 L446.4 219.9 L444.9 220.6 L443.0 220.9 L441.0 220.8 L439.3 220.4 L438.2 219.9 L437.9 219.4 M445.5 224.7 L444.8 225.8 L443.3 226.5 L441.4 226.8 L439.4 226.7 L437.7 226.3 L436.5 225.7 L436.2 225.3 M443.9 230.6 L443.1 231.6 L441.6 232.4 L439.7 232.6 L437.7 232.5 L436.0 232.1 L434.9 231.6 L434.6 231.1" fill="none" stroke="#a84c74" stroke-width="3.1" stroke-linecap="round" stroke-linejoin="round"/>
<path d="M448.8 213.0 L448.0 214.1 L446.6 214.8 L444.7 215.0 L442.7 214.9 L440.9 214.5 L439.8 214.0 L439.5 213.5 M447.2 218.9 L446.4 219.9 L444.9 220.6 L443.0 220.9 L441.0 220.8 L439.3 220.4 L438.2 219.9 L437.9 219.4 M445.5 224.7 L444.8 225.8 L443.3 226.5 L441.4 226.8 L439.4 226.7 L437.7 226.3 L436.5 225.7 L436.2 225.3 M443.9 230.6 L443.1 231.6 L441.6 232.4 L439.7 232.6 L437.7 232.5 L436.0 232.1 L434.9 231.6 L434.6 231.1" fill="none" stroke="#ea8db2" stroke-width="2.4" stroke-linecap="round" stroke-linejoin="round"/>
<path d="M448.8 213.0 L448.0 214.1 L446.6 214.8 L444.7 215.0 L442.7 214.9 L440.9 214.5 L439.8 214.0 L439.5 213.5 M447.2 218.9 L446.4 219.9 L444.9 220.6 L443.0 220.9 L441.0 220.8 L439.3 220.4 L438.2 219.9 L437.9 219.4 M445.5 224.7 L444.8 225.8 L443.3 226.5 L441.4 226.8 L439.4 226.7 L437.7 226.3 L436.5 225.7 L436.2 225.3 M443.9 230.6 L443.1 231.6 L441.6 232.4 L439.7 232.6 L437.7 232.5 L436.0 232.1 L434.9 231.6 L434.6 231.1" fill="none" stroke="#f4c6d8" stroke-width="0.8" stroke-linecap="round" stroke-linejoin="round" opacity="0.55"/>
<path d="M416.7 247.8 L416.8 247.2 L417.7 246.7 L419.1 246.2 L420.7 246.1 L422.4 246.4 L423.8 247.1 L424.7 248.3 M419.3 254.3 L419.5 253.8 L420.3 253.2 L421.7 252.7 L423.4 252.6 L425.0 252.9 L426.4 253.7 L427.3 254.8 M421.9 260.8 L422.1 260.3 L422.9 259.7 L424.3 259.2 L426.0 259.1 L427.7 259.4 L429.1 260.2 L429.9 261.4" fill="none" stroke="#c5698f" stroke-width="1.5" stroke-linecap="round" stroke-linejoin="round"/>
<path d="M422.0 241.8 L422.2 243.3 L421.8 244.8 L420.8 246.2 L419.5 247.2 L418.2 247.9 L417.1 248.0 L416.7 247.8 M424.7 248.3 L424.9 249.8 L424.4 251.3 L423.4 252.7 L422.1 253.7 L420.8 254.4 L419.8 254.5 L419.3 254.3 M427.3 254.8 L427.5 256.3 L427.0 257.8 L426.0 259.2 L424.7 260.3 L423.4 260.9 L422.4 261.0 L421.9 260.8 M429.9 261.4 L430.1 262.8 L429.7 264.3 L428.7 265.7 L427.4 266.8 L426.1 267.4 L425.0 267.6 L424.6 267.3" fill="none" stroke="#a84c74" stroke-width="2.9" stroke-linecap="round" stroke-linejoin="round"/>
<path d="M422.0 241.8 L422.2 243.3 L421.8 244.8 L420.8 246.2 L419.5 247.2 L418.2 247.9 L417.1 248.0 L416.7 247.8 M424.7 248.3 L424.9 249.8 L424.4 251.3 L423.4 252.7 L422.1 253.7 L420.8 254.4 L419.8 254.5 L419.3 254.3 M427.3 254.8 L427.5 256.3 L427.0 257.8 L426.0 259.2 L424.7 260.3 L423.4 260.9 L422.4 261.0 L421.9 260.8 M429.9 261.4 L430.1 262.8 L429.7 264.3 L428.7 265.7 L427.4 266.8 L426.1 267.4 L425.0 267.6 L424.6 267.3" fill="none" stroke="#ea8db2" stroke-width="2.2" stroke-linecap="round" stroke-linejoin="round"/>
<path d="M422.0 241.8 L422.2 243.3 L421.8 244.8 L420.8 246.2 L419.5 247.2 L418.2 247.9 L417.1 248.0 L416.7 247.8 M424.7 248.3 L424.9 249.8 L424.4 251.3 L423.4 252.7 L422.1 253.7 L420.8 254.4 L419.8 254.5 L419.3 254.3 M427.3 254.8 L427.5 256.3 L427.0 257.8 L426.0 259.2 L424.7 260.3 L423.4 260.9 L422.4 261.0 L421.9 260.8 M429.9 261.4 L430.1 262.8 L429.7 264.3 L428.7 265.7 L427.4 266.8 L426.1 267.4 L425.0 267.6 L424.6 267.3" fill="none" stroke="#f4c6d8" stroke-width="0.8" stroke-linecap="round" stroke-linejoin="round" opacity="0.55"/>
<path d="M423.1 223.9 C423.9 226.2,426.3 233.2,427.9 238.1 C429.5 243.0,431.2 247.7,432.7 253.5 C434.3 259.2,436.4 269.4,437.1 272.5" fill="none" stroke="#a84c74" stroke-width="2.7" stroke-linecap="round" stroke-linejoin="round"/>
<path d="M423.1 223.9 C423.9 226.2,426.3 233.2,427.9 238.1 C429.5 243.0,431.2 247.7,432.7 253.5 C434.3 259.2,436.4 269.4,437.1 272.5" fill="none" stroke="#ea8db2" stroke-width="2.0" stroke-linecap="round" stroke-linejoin="round"/>
<path d="M438.0 235.3 C437.4 236.7,435.4 240.6,434.5 243.6 C433.6 246.6,433.0 251.8,432.7 253.5" fill="none" stroke="#a84c74" stroke-width="2.0" stroke-linecap="round" stroke-linejoin="round"/>
<path d="M438.0 235.3 C437.4 236.7,435.4 240.6,434.5 243.6 C433.6 246.6,433.0 251.8,432.7 253.5" fill="none" stroke="#ea8db2" stroke-width="1.4" stroke-linecap="round" stroke-linejoin="round"/>
<path d="M427.9 266.0 C427.3 266.6,425.3 269.3,424.6 269.9 C423.9 270.6,423.7 269.9,423.5 269.9" fill="none" stroke="#a84c74" stroke-width="1.9" stroke-linecap="round" stroke-linejoin="round"/>
<path d="M427.9 266.0 C427.3 266.6,425.3 269.3,424.6 269.9 C423.9 270.6,423.7 269.9,423.5 269.9" fill="none" stroke="#ea8db2" stroke-width="1.3" stroke-linecap="round" stroke-linejoin="round"/>
<path d="M425.7 221.7 C424.6 220.8,421.0 216.9,419.1 216.2 C417.2 215.5,414.8 216.2,414.3 217.3 C413.8 218.4,414.5 221.7,415.8 222.8 C417.2 223.9,420.8 223.1,422.4 223.9 C424.1 224.6,425.2 226.6,425.7 227.1" fill="none" stroke="#8c7c2c" stroke-width="1.8" stroke-linecap="round" stroke-linejoin="round"/>
<path d="M425.7 221.7 C424.6 220.8,421.0 216.9,419.1 216.2 C417.2 215.5,414.8 216.2,414.3 217.3 C413.8 218.4,414.5 221.7,415.8 222.8 C417.2 223.9,420.8 223.1,422.4 223.9 C424.1 224.6,425.2 226.6,425.7 227.1" fill="none" stroke="#ecd97a" stroke-width="1.2" stroke-linecap="round" stroke-linejoin="round"/>
<path d="M407.1 244.0 C408.2 242.9,411.6 239.5,413.6 237.5 C415.7 235.4,417.7 233.5,419.6 231.8 C421.5 230.0,424.1 227.6,425.0 226.7" fill="none" stroke="#8c7c2c" stroke-width="3.1" stroke-linecap="round" stroke-linejoin="round"/>
<path d="M407.1 244.0 C408.2 242.9,411.6 239.5,413.6 237.5 C415.7 235.4,417.7 233.5,419.6 231.8 C421.5 230.0,424.1 227.6,425.0 226.7" fill="none" stroke="#e6bd3c" stroke-width="2.4" stroke-linecap="round" stroke-linejoin="round"/>
<path d="M411.7 246.4 C412.5 245.4,415.1 242.2,416.9 240.3 C418.7 238.4,420.8 236.4,422.4 234.8 C424.0 233.3,425.7 231.5,426.4 230.9" fill="none" stroke="#8c7c2c" stroke-width="2.4" stroke-linecap="round" stroke-linejoin="round"/>
<path d="M411.7 246.4 C412.5 245.4,415.1 242.2,416.9 240.3 C418.7 238.4,420.8 236.4,422.4 234.8 C424.0 233.3,425.7 231.5,426.4 230.9" fill="none" stroke="#e6bd3c" stroke-width="1.8" stroke-linecap="round" stroke-linejoin="round"/>
<path d="M404.8 232.6 L404.6 232.2 L404.7 231.3 L405.2 230.1 L406.0 228.9 L407.1 227.9 L408.3 227.4 L409.4 227.4 M409.8 234.3 L409.6 233.9 L409.7 233.0 L410.2 231.9 L411.0 230.6 L412.1 229.6 L413.3 229.1 L414.4 229.2" fill="none" stroke="#b7a54f" stroke-width="1.3" stroke-linecap="round" stroke-linejoin="round"/>
<path d="M404.4 225.7 L405.3 226.3 L405.9 227.5 L406.1 228.9 L406.0 230.4 L405.6 231.6 L405.2 232.4 L404.8 232.6 M409.4 227.4 L410.3 228.1 L410.9 229.2 L411.1 230.7 L411.0 232.1 L410.6 233.4 L410.2 234.1 L409.8 234.3 M414.4 229.2 L415.3 229.8 L415.9 231.0 L416.1 232.4 L416.0 233.9 L415.6 235.1 L415.2 235.9 L414.8 236.1" fill="none" stroke="#8c7c2c" stroke-width="2.5" stroke-linecap="round" stroke-linejoin="round"/>
<path d="M404.4 225.7 L405.3 226.3 L405.9 227.5 L406.1 228.9 L406.0 230.4 L405.6 231.6 L405.2 232.4 L404.8 232.6 M409.4 227.4 L410.3 228.1 L410.9 229.2 L411.1 230.7 L411.0 232.1 L410.6 233.4 L410.2 234.1 L409.8 234.3 M414.4 229.2 L415.3 229.8 L415.9 231.0 L416.1 232.4 L416.0 233.9 L415.6 235.1 L415.2 235.9 L414.8 236.1" fill="none" stroke="#ecd97a" stroke-width="1.8" stroke-linecap="round" stroke-linejoin="round"/>
<path d="M404.4 225.7 L405.3 226.3 L405.9 227.5 L406.1 228.9 L406.0 230.4 L405.6 231.6 L405.2 232.4 L404.8 232.6 M409.4 227.4 L410.3 228.1 L410.9 229.2 L411.1 230.7 L411.0 232.1 L410.6 233.4 L410.2 234.1 L409.8 234.3 M414.4 229.2 L415.3 229.8 L415.9 231.0 L416.1 232.4 L416.0 233.9 L415.6 235.1 L415.2 235.9 L414.8 236.1" fill="none" stroke="#f5ecbc" stroke-width="0.6" stroke-linecap="round" stroke-linejoin="round" opacity="0.55"/>
<path d="M403.8 232.6 C403.2 233.7,400.4 237.1,400.5 239.2 C400.6 241.3,404.2 243.2,404.2 245.4 C404.2 247.5,400.0 250.0,400.3 251.9 C400.5 253.9,403.6 256.8,405.5 257.2 C407.4 257.6,410.8 256.0,411.7 254.6 C412.5 253.1,410.1 249.9,410.8 248.4 C411.5 247.0,415.0 246.2,415.8 245.8" fill="none" stroke="#8c7c2c" stroke-width="1.8" stroke-linecap="round" stroke-linejoin="round"/>
<path d="M403.8 232.6 C403.2 233.7,400.4 237.1,400.5 239.2 C400.6 241.3,404.2 243.2,404.2 245.4 C404.2 247.5,400.0 250.0,400.3 251.9 C400.5 253.9,403.6 256.8,405.5 257.2 C407.4 257.6,410.8 256.0,411.7 254.6 C412.5 253.1,410.1 249.9,410.8 248.4 C411.5 247.0,415.0 246.2,415.8 245.8" fill="none" stroke="#ecd97a" stroke-width="1.2" stroke-linecap="round" stroke-linejoin="round"/>
<path d="M403.3 228.7 C403.8 228.1,404.6 225.8,406.0 225.0 C407.3 224.2,410.1 225.1,411.4 223.9 C412.8 222.6,413.8 218.4,414.3 217.3" fill="none" stroke="#8c7c2c" stroke-width="1.9" stroke-linecap="round" stroke-linejoin="round"/>
<path d="M403.3 228.7 C403.8 228.1,404.6 225.8,406.0 225.0 C407.3 224.2,410.1 225.1,411.4 223.9 C412.8 222.6,413.8 218.4,414.3 217.3" fill="none" stroke="#ecd97a" stroke-width="1.3" stroke-linecap="round" stroke-linejoin="round"/>
<path d="M436.1 244.6 L435.6 244.4 L434.8 243.3 L434.1 241.6 L433.7 239.5 L433.7 237.5 L434.2 235.9 L435.2 234.9 M442.1 241.8 L441.6 241.6 L440.8 240.5 L440.1 238.8 L439.7 236.8 L439.7 234.7 L440.2 233.1 L441.2 232.1 M448.1 239.1 L447.6 238.8 L446.8 237.8 L446.1 236.0 L445.7 234.0 L445.7 232.0 L446.2 230.3 L447.2 229.3" fill="none" stroke="#2cb32b" stroke-width="2.0" stroke-linecap="round" stroke-linejoin="round"/>
<path d="M429.3 237.7 L430.7 237.5 L432.2 238.2 L433.8 239.5 L435.1 241.2 L435.9 242.8 L436.3 244.1 L436.1 244.6 M435.2 234.9 L436.6 234.7 L438.2 235.4 L439.8 236.7 L441.1 238.4 L441.9 240.0 L442.3 241.3 L442.1 241.8 M441.2 232.1 L442.6 232.0 L444.2 232.6 L445.8 234.0 L447.1 235.6 L447.9 237.2 L448.3 238.5 L448.1 239.1" fill="none" stroke="#1f8a20" stroke-width="3.5" stroke-linecap="round" stroke-linejoin="round"/>
<path d="M429.3 237.7 L430.7 237.5 L432.2 238.2 L433.8 239.5 L435.1 241.2 L435.9 242.8 L436.3 244.1 L436.1 244.6 M435.2 234.9 L436.6 234.7 L438.2 235.4 L439.8 236.7 L441.1 238.4 L441.9 240.0 L442.3 241.3 L442.1 241.8 M441.2 232.1 L442.6 232.0 L444.2 232.6 L445.8 234.0 L447.1 235.6 L447.9 237.2 L448.3 238.5 L448.1 239.1" fill="none" stroke="#3ee63a" stroke-width="2.8" stroke-linecap="round" stroke-linejoin="round"/>
<path d="M429.3 237.7 L430.7 237.5 L432.2 238.2 L433.8 239.5 L435.1 241.2 L435.9 242.8 L436.3 244.1 L436.1 244.6 M435.2 234.9 L436.6 234.7 L438.2 235.4 L439.8 236.7 L441.1 238.4 L441.9 240.0 L442.3 241.3 L442.1 241.8 M441.2 232.1 L442.6 232.0 L444.2 232.6 L445.8 234.0 L447.1 235.6 L447.9 237.2 L448.3 238.5 L448.1 239.1" fill="none" stroke="#9ef29c" stroke-width="1.0" stroke-linecap="round" stroke-linejoin="round" opacity="0.55"/>
<path d="M446.3 258.1 L445.8 257.8 L445.2 256.7 L444.7 255.1 L444.4 253.1 L444.6 251.1 L445.1 249.6 L446.1 248.8 M452.0 256.1 L451.5 255.8 L450.9 254.7 L450.4 253.0 L450.1 251.0 L450.3 249.1 L450.8 247.6 L451.8 246.8 M457.7 254.0 L457.2 253.7 L456.6 252.7 L456.1 251.0 L455.8 249.0 L456.0 247.1 L456.5 245.5 L457.5 244.7" fill="none" stroke="#2cb32b" stroke-width="2.0" stroke-linecap="round" stroke-linejoin="round"/>
<path d="M440.4 250.9 L441.7 250.9 L443.2 251.6 L444.5 253.0 L445.6 254.7 L446.2 256.4 L446.5 257.6 L446.3 258.1 M446.1 248.8 L447.4 248.8 L448.9 249.6 L450.2 251.0 L451.3 252.7 L451.9 254.3 L452.2 255.5 L452.0 256.1 M451.8 246.8 L453.1 246.8 L454.6 247.6 L455.9 248.9 L457.0 250.6 L457.6 252.3 L457.9 253.5 L457.7 254.0" fill="none" stroke="#1f8a20" stroke-width="3.5" stroke-linecap="round" stroke-linejoin="round"/>
<path d="M440.4 250.9 L441.7 250.9 L443.2 251.6 L444.5 253.0 L445.6 254.7 L446.2 256.4 L446.5 257.6 L446.3 258.1 M446.1 248.8 L447.4 248.8 L448.9 249.6 L450.2 251.0 L451.3 252.7 L451.9 254.3 L452.2 255.5 L452.0 256.1 M451.8 246.8 L453.1 246.8 L454.6 247.6 L455.9 248.9 L457.0 250.6 L457.6 252.3 L457.9 253.5 L457.7 254.0" fill="none" stroke="#3ee63a" stroke-width="2.8" stroke-linecap="round" stroke-linejoin="round"/>
<path d="M440.4 250.9 L441.7 250.9 L443.2 251.6 L444.5 253.0 L445.6 254.7 L446.2 256.4 L446.5 257.6 L446.3 258.1 M446.1 248.8 L447.4 248.8 L448.9 249.6 L450.2 251.0 L451.3 252.7 L451.9 254.3 L452.2 255.5 L452.0 256.1 M451.8 246.8 L453.1 246.8 L454.6 247.6 L455.9 248.9 L457.0 250.6 L457.6 252.3 L457.9 253.5 L457.7 254.0" fill="none" stroke="#9ef29c" stroke-width="1.0" stroke-linecap="round" stroke-linejoin="round" opacity="0.55"/>
<path d="M431.2 241.8 C430.9 243.5,428.8 249.2,429.6 251.9 C430.5 254.6,434.2 257.6,436.2 258.1 C438.3 258.6,441.0 255.5,441.9 255.0" fill="none" stroke="#1f8a20" stroke-width="2.1" stroke-linecap="round" stroke-linejoin="round"/>
<path d="M431.2 241.8 C430.9 243.5,428.8 249.2,429.6 251.9 C430.5 254.6,434.2 257.6,436.2 258.1 C438.3 258.6,441.0 255.5,441.9 255.0" fill="none" stroke="#3ee63a" stroke-width="1.5" stroke-linecap="round" stroke-linejoin="round"/>
<path d="M421.4 194.6 L421.9 194.3 L423.1 193.9 L424.9 193.8 L427.0 193.9 L428.9 194.4 L430.3 195.2 L430.9 196.3 M422.1 200.0 L422.5 199.6 L423.7 199.3 L425.6 199.2 L427.7 199.3 L429.6 199.8 L430.9 200.6 L431.5 201.6 M422.7 205.4 L423.1 205.0 L424.4 204.7 L426.2 204.6 L428.3 204.7 L430.2 205.2 L431.6 206.0 L432.2 207.0" fill="none" stroke="#2d51ae" stroke-width="1.8" stroke-linecap="round" stroke-linejoin="round"/>
<path d="M430.3 190.9 L429.9 192.0 L428.8 193.1 L427.0 194.0 L425.0 194.6 L423.2 194.9 L421.9 194.9 L421.4 194.6 M430.9 196.3 L430.6 197.4 L429.4 198.5 L427.7 199.4 L425.7 200.0 L423.9 200.3 L422.6 200.3 L422.1 200.0 M431.5 201.6 L431.2 202.8 L430.0 203.9 L428.3 204.8 L426.3 205.4 L424.5 205.7 L423.2 205.7 L422.7 205.4 M432.2 207.0 L431.8 208.2 L430.7 209.3 L428.9 210.2 L426.9 210.8 L425.1 211.1 L423.8 211.1 L423.3 210.8" fill="none" stroke="#223e92" stroke-width="3.3" stroke-linecap="round" stroke-linejoin="round"/>
<path d="M430.3 190.9 L429.9 192.0 L428.8 193.1 L427.0 194.0 L425.0 194.6 L423.2 194.9 L421.9 194.9 L421.4 194.6 M430.9 196.3 L430.6 197.4 L429.4 198.5 L427.7 199.4 L425.7 200.0 L423.9 200.3 L422.6 200.3 L422.1 200.0 M431.5 201.6 L431.2 202.8 L430.0 203.9 L428.3 204.8 L426.3 205.4 L424.5 205.7 L423.2 205.7 L422.7 205.4 M432.2 207.0 L431.8 208.2 L430.7 209.3 L428.9 210.2 L426.9 210.8 L425.1 211.1 L423.8 211.1 L423.3 210.8" fill="none" stroke="#3b69d2" stroke-width="2.6" stroke-linecap="round" stroke-linejoin="round"/>
<path d="M430.3 190.9 L429.9 192.0 L428.8 193.1 L427.0 194.0 L425.0 194.6 L423.2 194.9 L421.9 194.9 L421.4 194.6 M430.9 196.3 L430.6 197.4 L429.4 198.5 L427.7 199.4 L425.7 200.0 L423.9 200.3 L422.6 200.3 L422.1 200.0 M431.5 201.6 L431.2 202.8 L430.0 203.9 L428.3 204.8 L426.3 205.4 L424.5 205.7 L423.2 205.7 L422.7 205.4 M432.2 207.0 L431.8 208.2 L430.7 209.3 L428.9 210.2 L426.9 210.8 L425.1 211.1 L423.8 211.1 L423.3 210.8" fill="none" stroke="#9db4e8" stroke-width="0.9" stroke-linecap="round" stroke-linejoin="round" opacity="0.55"/>
<path d="M440.0 196.1 L440.4 195.8 L441.7 195.6 L443.5 195.7 L445.6 196.1 L447.4 196.7 L448.7 197.6 L449.2 198.6 M440.0 201.1 L440.4 200.8 L441.7 200.7 L443.5 200.7 L445.6 201.1 L447.4 201.7 L448.7 202.6 L449.2 203.6 M440.0 206.1 L440.4 205.8 L441.7 205.7 L443.5 205.7 L445.6 206.1 L447.4 206.7 L448.7 207.6 L449.2 208.6" fill="none" stroke="#2d51ae" stroke-width="1.8" stroke-linecap="round" stroke-linejoin="round"/>
<path d="M449.2 193.6 L448.7 194.6 L447.4 195.5 L445.6 196.1 L443.5 196.5 L441.7 196.6 L440.4 196.4 L440.0 196.1 M449.2 198.6 L448.7 199.6 L447.4 200.5 L445.6 201.1 L443.5 201.5 L441.7 201.6 L440.4 201.4 L440.0 201.1 M449.2 203.6 L448.7 204.6 L447.4 205.5 L445.6 206.2 L443.5 206.5 L441.7 206.6 L440.4 206.4 L440.0 206.1 M449.2 208.6 L448.7 209.6 L447.4 210.5 L445.6 211.2 L443.5 211.5 L441.7 211.6 L440.4 211.4 L440.0 211.1" fill="none" stroke="#223e92" stroke-width="3.3" stroke-linecap="round" stroke-linejoin="round"/>
<path d="M449.2 193.6 L448.7 194.6 L447.4 195.5 L445.6 196.1 L443.5 196.5 L441.7 196.6 L440.4 196.4 L440.0 196.1 M449.2 198.6 L448.7 199.6 L447.4 200.5 L445.6 201.1 L443.5 201.5 L441.7 201.6 L440.4 201.4 L440.0 201.1 M449.2 203.6 L448.7 204.6 L447.4 205.5 L445.6 206.2 L443.5 206.5 L441.7 206.6 L440.4 206.4 L440.0 206.1 M449.2 208.6 L448.7 209.6 L447.4 210.5 L445.6 211.2 L443.5 211.5 L441.7 211.6 L440.4 211.4 L440.0 211.1" fill="none" stroke="#3b69d2" stroke-width="2.6" stroke-linecap="round" stroke-linejoin="round"/>
<path d="M449.2 193.6 L448.7 194.6 L447.4 195.5 L445.6 196.1 L443.5 196.5 L441.7 196.6 L440.4 196.4 L440.0 196.1 M449.2 198.6 L448.7 199.6 L447.4 200.5 L445.6 201.1 L443.5 201.5 L441.7 201.6 L440.4 201.4 L440.0 201.1 M449.2 203.6 L448.7 204.6 L447.4 205.5 L445.6 206.2 L443.5 206.5 L441.7 206.6 L440.4 206.4 L440.0 206.1 M449.2 208.6 L448.7 209.6 L447.4 210.5 L445.6 211.2 L443.5 211.5 L441.7 211.6 L440.4 211.4 L440.0 211.1" fill="none" stroke="#9db4e8" stroke-width="0.9" stroke-linecap="round" stroke-linejoin="round" opacity="0.55"/>
<path d="M421.8 196.4 C421.6 195.5,420.4 192.5,420.9 191.0 C421.4 189.4,422.9 187.7,424.6 187.0 C426.3 186.3,429.2 186.1,431.2 186.6 C433.2 187.1,434.6 189.8,436.7 190.1 C438.8 190.4,441.4 188.1,443.7 188.3 C446.0 188.6,449.2 190.2,450.3 191.4 C451.3 192.6,449.9 195.1,449.8 195.8" fill="none" stroke="#223e92" stroke-width="2.0" stroke-linecap="round" stroke-linejoin="round"/>
<path d="M421.8 196.4 C421.6 195.5,420.4 192.5,420.9 191.0 C421.4 189.4,422.9 187.7,424.6 187.0 C426.3 186.3,429.2 186.1,431.2 186.6 C433.2 187.1,434.6 189.8,436.7 190.1 C438.8 190.4,441.4 188.1,443.7 188.3 C446.0 188.6,449.2 190.2,450.3 191.4 C451.3 192.6,449.9 195.1,449.8 195.8" fill="none" stroke="#3b69d2" stroke-width="1.4" stroke-linecap="round" stroke-linejoin="round"/>
<path d="M425.3 210.3 C424.5 210.7,422.1 212.0,420.9 212.9 C419.7 213.8,418.5 215.1,418.0 215.5" fill="none" stroke="#223e92" stroke-width="1.6" stroke-linecap="round" stroke-linejoin="round"/>
<path d="M425.3 210.3 C424.5 210.7,422.1 212.0,420.9 212.9 C419.7 213.8,418.5 215.1,418.0 215.5" fill="none" stroke="#3b69d2" stroke-width="1.1" stroke-linecap="round" stroke-linejoin="round"/>
</g>
<text x="468" y="193.6" font-size="7.1" fill="#3b78c6" stroke="#3b78c6">Epitope Ø</text>
<text x="382.6" y="216.4" font-size="7.1" fill="#b3a338" stroke="#b3a338">Epitope V</text>
<text x="463.4" y="239" font-size="7.1" fill="#4fe04a" stroke="#4fe04a">Epitope II</text>
<text x="437" y="291.6" font-size="7.1" fill="#9a50e0" stroke="#9a50e0">Epitope III</text>
</g><!--endstruct-->

<!-- ROW 2 -->
<g id="row2">
<text x="60.4" y="334.8" class="b k" font-size="8.4" textLength="44.5" lengthAdjust="spacingAndGlyphs">scDimer AA</text>
<rect x="116.4" y="324.4" width="56.2" height="15.6" rx="4.2" fill="url(#gG)" class="bx"/>
<text x="145.2" y="334.8" class="m k" font-size="7.8" textLength="9.6" lengthAdjust="spacingAndGlyphs">SP</text>
<rect x="172.9" y="324.4" width="170" height="15.6" rx="4.2" fill="url(#gR)" class="bx"/>
<text x="257.8" y="334.6" class="m k" font-size="8.6" textLength="115.5" lengthAdjust="spacingAndGlyphs">RSV-A (Q26-T103, G143-G307)</text>
<rect x="343.3" y="324.4" width="170.3" height="15.6" rx="4.2" fill="url(#gR)" class="bx"/>
<text x="428.2" y="334.6" class="m k" font-size="8.6" textLength="115" lengthAdjust="spacingAndGlyphs">RSV-A (N27-T103, G143-G307)</text>
</g>

<!-- ROW 3 -->
<g id="row3">
<path class="ds" d="M171.2 387.6 L352 418"/>
<path class="ds" d="M528.8 387V418.5" style="stroke-dasharray:4.2 2.8"/>
<path d="M222.3 384 C222.3 401,283.3 401,283.3 384" fill="none" stroke="#222" stroke-width="0.9"/>
<rect x="224.6" y="371.9" width="56.4" height="14.2" rx="7.1" fill="url(#gY)" class="dt"/>
<text x="253" y="382" class="m g" font-size="8.4" textLength="49.7" lengthAdjust="spacingAndGlyphs"><tspan style="font-weight:normal">∆</tspan>(N104-L142)</text>
<rect x="171" y="372" width="52" height="14.5" rx="4.2" fill="url(#gT2)" class="bx"/>
<text x="197" y="382" class="m k" font-size="8.4" textLength="35.7" lengthAdjust="spacingAndGlyphs">N27-T103</text>
<rect x="397.3" y="371.2" width="131.2" height="15" rx="3" fill="url(#gY)" class="dt2"/>
<text x="463" y="381.3" class="m" fill="#828282" font-size="7.8" textLength="51.3" lengthAdjust="spacingAndGlyphs"><tspan style="font-weight:normal">∆</tspan>(V308-G552)</text>
<rect x="281" y="371.8" width="114.6" height="14.8" rx="4.2" fill="url(#gT)" class="bx"/>
<text x="338.5" y="381.8" class="m k" font-size="8.4" textLength="41.3" lengthAdjust="spacingAndGlyphs">G143-G307</text>
<path class="tk" d="M182.2 361.2V372"/>
<text x="182.8" y="359.5" class="s k" font-size="6.5" textLength="15.1" lengthAdjust="spacingAndGlyphs">C37A</text>
</g>

<!-- ROW 4 -->
<g id="row4">
<text x="56.3" y="430.5" class="b k" font-size="8.4" textLength="46.2" lengthAdjust="spacingAndGlyphs">scDimer AB</text>
<rect x="114.4" y="419.9" width="59" height="15.1" rx="4.2" fill="url(#gG)" class="bx"/>
<text x="144" y="430.5" class="m k" font-size="8.4" textLength="10.5" lengthAdjust="spacingAndGlyphs">SP</text>
<rect x="173.8" y="419.9" width="177.4" height="15.1" rx="4.2" fill="url(#gR)" class="bx"/>
<text x="262" y="430" class="m k" font-size="8.4" textLength="116" lengthAdjust="spacingAndGlyphs">RSV-A ( Q26-T103,G143-G307)</text>
<rect x="351.7" y="420" width="178.4" height="15.2" rx="4.2" fill="url(#gT)" class="bx"/>
<text x="440.8" y="430" class="m k" font-size="8.4" textLength="116.3" lengthAdjust="spacingAndGlyphs">RSV-B ( N27-A103,G143-G307)</text>
</g>
</svg>
</body></html>
